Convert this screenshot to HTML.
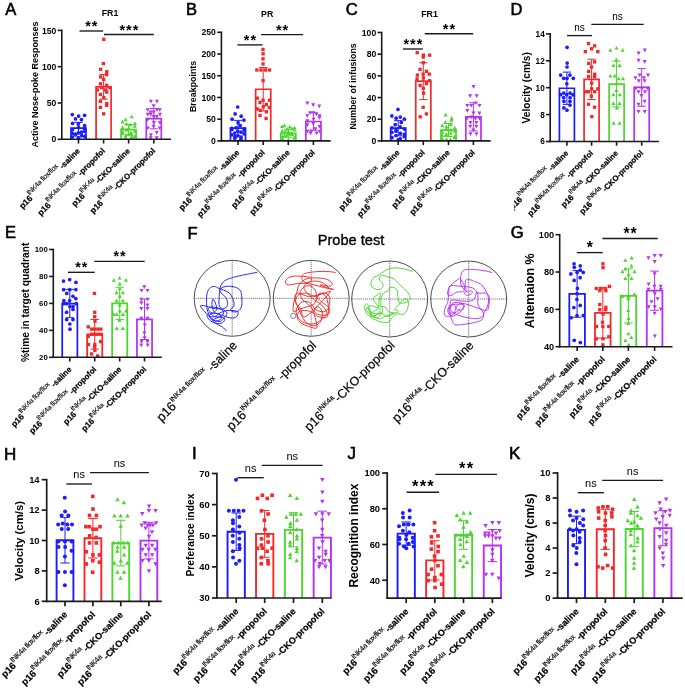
<!DOCTYPE html>
<html><head><meta charset="utf-8"><style>
html,body{margin:0;padding:0;background:#fff;}
svg{display:block;filter:blur(0.3px);}
text{font-family:"Liberation Sans", sans-serif;}
</style></head><body>
<svg width="685" height="689" viewBox="0 0 685 689">
<defs><clipPath id="clipD"><rect x="514.2" y="0" width="172" height="689"/></clipPath></defs>
<rect width="685" height="689" fill="#fff"/>
<rect x="71" y="128.19" width="15" height="11.11" fill="#fff"/>
<rect x="96.1" y="86.81" width="15" height="52.49" fill="#fff"/>
<rect x="121.1" y="129.72" width="15" height="9.58" fill="#fff"/>
<rect x="146.3" y="118.68" width="15" height="20.62" fill="#fff"/>
<path d="M71 139.3V128.19H86V139.3" fill="none" stroke="#1c1cff" stroke-width="1.7" stroke-linejoin="miter"/>
<path d="M96.1 139.3V86.81H111.1V139.3" fill="none" stroke="#f42828" stroke-width="1.7" stroke-linejoin="miter"/>
<path d="M121.1 139.3V129.72H136.1V139.3" fill="none" stroke="#4ad62c" stroke-width="1.7" stroke-linejoin="miter"/>
<path d="M146.3 139.3V118.68H161.3V139.3" fill="none" stroke="#b432f4" stroke-width="1.7" stroke-linejoin="miter"/>
<circle cx="72.31" cy="114.62" r="1.85" fill="#1c1cff"/>
<circle cx="84.58" cy="115.34" r="1.85" fill="#1c1cff"/>
<circle cx="78.64" cy="116.07" r="1.85" fill="#1c1cff"/>
<circle cx="75.47" cy="118.97" r="1.85" fill="#1c1cff"/>
<circle cx="81.49" cy="119.7" r="1.85" fill="#1c1cff"/>
<circle cx="72.56" cy="123.33" r="1.85" fill="#1c1cff"/>
<circle cx="78.33" cy="124.05" r="1.85" fill="#1c1cff"/>
<circle cx="84.63" cy="125.51" r="1.85" fill="#1c1cff"/>
<circle cx="78.55" cy="127.68" r="1.85" fill="#1c1cff"/>
<circle cx="84.42" cy="128.41" r="1.85" fill="#1c1cff"/>
<circle cx="72.46" cy="129.86" r="1.85" fill="#1c1cff"/>
<circle cx="84.73" cy="131.31" r="1.85" fill="#1c1cff"/>
<circle cx="81.54" cy="132.04" r="1.85" fill="#1c1cff"/>
<circle cx="78.35" cy="132.77" r="1.85" fill="#1c1cff"/>
<circle cx="72.42" cy="133.49" r="1.85" fill="#1c1cff"/>
<circle cx="75.53" cy="134.22" r="1.85" fill="#1c1cff"/>
<circle cx="75.39" cy="134.94" r="1.85" fill="#1c1cff"/>
<circle cx="81.7" cy="135.67" r="1.85" fill="#1c1cff"/>
<circle cx="84.81" cy="136.4" r="1.85" fill="#1c1cff"/>
<circle cx="72.26" cy="137.12" r="1.85" fill="#1c1cff"/>
<circle cx="78.58" cy="137.85" r="1.85" fill="#1c1cff"/>
<circle cx="78.4" cy="137.95" r="1.85" fill="#1c1cff"/>
<rect x="102.12" y="37.66" width="3.33" height="3.33" fill="#f42828"/>
<rect x="101.69" y="61.91" width="3.33" height="3.33" fill="#f42828"/>
<rect x="98.98" y="67.65" width="3.33" height="3.33" fill="#f42828"/>
<rect x="105.15" y="69.97" width="3.33" height="3.33" fill="#f42828"/>
<rect x="104.95" y="72.95" width="3.33" height="3.33" fill="#f42828"/>
<rect x="99.04" y="75.27" width="3.33" height="3.33" fill="#f42828"/>
<rect x="102.03" y="77.81" width="3.33" height="3.33" fill="#f42828"/>
<rect x="98.83" y="82.1" width="3.33" height="3.33" fill="#f42828"/>
<rect x="105.01" y="83.62" width="3.33" height="3.33" fill="#f42828"/>
<rect x="99.8" y="85.94" width="3.33" height="3.33" fill="#f42828"/>
<rect x="108.22" y="85.94" width="3.33" height="3.33" fill="#f42828"/>
<rect x="104.05" y="88.27" width="3.33" height="3.33" fill="#f42828"/>
<rect x="95.67" y="88.27" width="3.33" height="3.33" fill="#f42828"/>
<rect x="105.09" y="90.45" width="3.33" height="3.33" fill="#f42828"/>
<rect x="98.75" y="92.77" width="3.33" height="3.33" fill="#f42828"/>
<rect x="102.15" y="95.82" width="3.33" height="3.33" fill="#f42828"/>
<rect x="98.7" y="99.67" width="3.33" height="3.33" fill="#f42828"/>
<rect x="105.1" y="101.92" width="3.33" height="3.33" fill="#f42828"/>
<rect x="104.9" y="103.73" width="3.33" height="3.33" fill="#f42828"/>
<rect x="98.74" y="105.76" width="3.33" height="3.33" fill="#f42828"/>
<rect x="101.99" y="112.15" width="3.33" height="3.33" fill="#f42828"/>
<path d="M131.84 114.65L129.8 118.35L133.87 118.35Z" fill="#4ad62c"/>
<path d="M125.58 117.55L123.55 121.25L127.62 121.25Z" fill="#4ad62c"/>
<path d="M122.54 119.73L120.5 123.43L124.57 123.43Z" fill="#4ad62c"/>
<path d="M134.93 121.18L132.9 124.88L136.97 124.88Z" fill="#4ad62c"/>
<path d="M126.63 121.91L124.6 125.61L128.67 125.61Z" fill="#4ad62c"/>
<path d="M130.65 122.63L128.62 126.33L132.69 126.33Z" fill="#4ad62c"/>
<path d="M134.7 124.09L132.67 127.79L136.74 127.79Z" fill="#4ad62c"/>
<path d="M122.54 125.54L120.5 129.24L124.57 129.24Z" fill="#4ad62c"/>
<path d="M128.55 126.26L126.51 129.96L130.58 129.96Z" fill="#4ad62c"/>
<path d="M126.37 127.72L124.33 131.42L128.4 131.42Z" fill="#4ad62c"/>
<path d="M134.78 129.17L132.74 132.87L136.81 132.87Z" fill="#4ad62c"/>
<path d="M122.51 129.89L120.47 133.59L124.54 133.59Z" fill="#4ad62c"/>
<path d="M130.86 130.62L128.83 134.32L132.9 134.32Z" fill="#4ad62c"/>
<path d="M122.35 131.35L120.32 135.05L124.39 135.05Z" fill="#4ad62c"/>
<path d="M128.66 132.07L126.63 135.77L130.7 135.77Z" fill="#4ad62c"/>
<path d="M131.81 132.8L129.77 136.5L133.84 136.5Z" fill="#4ad62c"/>
<path d="M125.69 133.52L123.66 137.22L127.73 137.22Z" fill="#4ad62c"/>
<path d="M134.82 134.25L132.78 137.95L136.85 137.95Z" fill="#4ad62c"/>
<path d="M131.61 134.98L129.57 138.68L133.64 138.68Z" fill="#4ad62c"/>
<path d="M125.48 135.7L123.45 139.4L127.52 139.4Z" fill="#4ad62c"/>
<path d="M156.95 103.48L154.91 99.78L158.98 99.78Z" fill="#b432f4"/>
<path d="M150.9 103.48L148.86 99.78L152.93 99.78Z" fill="#b432f4"/>
<path d="M153.64 108.05L151.6 104.35L155.67 104.35Z" fill="#b432f4"/>
<path d="M157.06 111.83L155.02 108.13L159.09 108.13Z" fill="#b432f4"/>
<path d="M147.72 111.83L145.69 108.13L149.76 108.13Z" fill="#b432f4"/>
<path d="M159.85 111.83L157.81 108.13L161.88 108.13Z" fill="#b432f4"/>
<path d="M150.51 114.15L148.47 110.45L152.54 110.45Z" fill="#b432f4"/>
<path d="M153.67 114.15L151.63 110.45L155.7 110.45Z" fill="#b432f4"/>
<path d="M150.73 116.4L148.7 112.7L152.77 112.7Z" fill="#b432f4"/>
<path d="M147.74 116.4L145.71 112.7L149.78 112.7Z" fill="#b432f4"/>
<path d="M160.05 116.4L158.01 112.7L162.08 112.7Z" fill="#b432f4"/>
<path d="M153.76 118.65L151.72 114.95L155.79 114.95Z" fill="#b432f4"/>
<path d="M156.83 118.65L154.79 114.95L158.86 114.95Z" fill="#b432f4"/>
<path d="M147.66 121.84L145.62 118.14L149.69 118.14Z" fill="#b432f4"/>
<path d="M153.79 124.75L151.75 121.05L155.82 121.05Z" fill="#b432f4"/>
<path d="M159.92 124.75L157.88 121.05L161.95 121.05Z" fill="#b432f4"/>
<path d="M153.62 128.52L151.58 124.82L155.65 124.82Z" fill="#b432f4"/>
<path d="M159.72 130.12L157.69 126.42L161.76 126.42Z" fill="#b432f4"/>
<path d="M147.84 130.12L145.8 126.42L149.87 126.42Z" fill="#b432f4"/>
<path d="M156.75 134.62L154.72 130.92L158.79 130.92Z" fill="#b432f4"/>
<path d="M150.88 136.94L148.84 133.24L152.91 133.24Z" fill="#b432f4"/>
<path d="M150.68 139.99L148.65 136.29L152.72 136.29Z" fill="#b432f4"/>
<path d="M156.68 139.99L154.65 136.29L158.72 136.29Z" fill="#b432f4"/>
<line x1="78.5" y1="122.38" x2="78.5" y2="134" stroke="#1c1cff" stroke-width="1"/>
<line x1="74.33" y1="122.38" x2="82.67" y2="122.38" stroke="#1c1cff" stroke-width="1"/>
<line x1="74.33" y1="134" x2="82.67" y2="134" stroke="#1c1cff" stroke-width="1"/>
<line x1="103.6" y1="74.47" x2="103.6" y2="99.15" stroke="#f42828" stroke-width="1"/>
<line x1="99.42" y1="74.47" x2="107.77" y2="74.47" stroke="#f42828" stroke-width="1"/>
<line x1="99.42" y1="99.15" x2="107.77" y2="99.15" stroke="#f42828" stroke-width="1"/>
<line x1="128.6" y1="124.63" x2="128.6" y2="134.8" stroke="#4ad62c" stroke-width="1"/>
<line x1="124.42" y1="124.63" x2="132.78" y2="124.63" stroke="#4ad62c" stroke-width="1"/>
<line x1="124.42" y1="134.8" x2="132.78" y2="134.8" stroke="#4ad62c" stroke-width="1"/>
<line x1="153.8" y1="108.52" x2="153.8" y2="128.85" stroke="#b432f4" stroke-width="1"/>
<line x1="149.62" y1="108.52" x2="157.98" y2="108.52" stroke="#b432f4" stroke-width="1"/>
<line x1="149.62" y1="128.85" x2="157.98" y2="128.85" stroke="#b432f4" stroke-width="1"/>
<line x1="61.8" y1="29.6" x2="61.8" y2="140.1" stroke="#1a1a1a" stroke-width="1.6"/>
<line x1="61" y1="139.3" x2="171" y2="139.3" stroke="#1a1a1a" stroke-width="1.6"/>
<line x1="57.6" y1="139.3" x2="61.8" y2="139.3" stroke="#1a1a1a" stroke-width="1.6"/>
<text x="56.3" y="142.4" font-size="8.6" font-weight="bold" text-anchor="end" fill="#000">0</text>
<line x1="57.6" y1="103" x2="61.8" y2="103" stroke="#1a1a1a" stroke-width="1.6"/>
<text x="56.3" y="106.1" font-size="8.6" font-weight="bold" text-anchor="end" fill="#000">50</text>
<line x1="57.6" y1="66.7" x2="61.8" y2="66.7" stroke="#1a1a1a" stroke-width="1.6"/>
<text x="56.3" y="69.8" font-size="8.6" font-weight="bold" text-anchor="end" fill="#000">100</text>
<line x1="57.6" y1="30.4" x2="61.8" y2="30.4" stroke="#1a1a1a" stroke-width="1.6"/>
<text x="56.3" y="33.5" font-size="8.6" font-weight="bold" text-anchor="end" fill="#000">150</text>
<line x1="78.5" y1="139.3" x2="78.5" y2="143.5" stroke="#1a1a1a" stroke-width="1.6"/>
<line x1="103.6" y1="139.3" x2="103.6" y2="143.5" stroke="#1a1a1a" stroke-width="1.6"/>
<line x1="128.6" y1="139.3" x2="128.6" y2="143.5" stroke="#1a1a1a" stroke-width="1.6"/>
<line x1="153.8" y1="139.3" x2="153.8" y2="143.5" stroke="#1a1a1a" stroke-width="1.6"/>
<text transform="translate(37.5 84.6) rotate(-90)" font-size="9" font-weight="bold" text-anchor="middle" fill="#000">Active Nose-poke Responses</text>
<text x="110" y="15.8" font-size="8.8" font-weight="bold" text-anchor="middle" fill="#000">FR1</text>
<line x1="79.5" y1="31" x2="103.2" y2="31" stroke="#1a1a1a" stroke-width="1.35"/>
<text x="91.85" y="31" font-size="14.5" font-weight="bold" text-anchor="middle" letter-spacing="1">**</text>
<line x1="104" y1="34.5" x2="153.9" y2="34.5" stroke="#1a1a1a" stroke-width="1.35"/>
<text x="129.45" y="34.5" font-size="14.5" font-weight="bold" text-anchor="middle" letter-spacing="1">***</text>
<text transform="translate(80.5 151.5) rotate(-45)" text-anchor="end" font-size="7.95"><tspan font-weight="bold" stroke="#000" stroke-width="0.22" font-size="8.5">p16</tspan><tspan font-size="7" letter-spacing="-0.3" stroke="#000" stroke-width="0.12" dy="-5">INK4a flox/flox</tspan><tspan font-weight="bold" stroke="#000" stroke-width="0.22" letter-spacing="0" dy="5" dx="1.4">-saline</tspan></text>
<text transform="translate(105.6 151.5) rotate(-45)" text-anchor="end" font-size="7.95"><tspan font-weight="bold" stroke="#000" stroke-width="0.22" font-size="8.5">p16</tspan><tspan font-size="7" letter-spacing="-0.3" stroke="#000" stroke-width="0.12" dy="-5">INK4a flox/flox</tspan><tspan font-weight="bold" stroke="#000" stroke-width="0.22" letter-spacing="0" dy="5" dx="1.4">-propofol</tspan></text>
<text transform="translate(130.6 151.5) rotate(-45)" text-anchor="end" font-size="7.95"><tspan font-weight="bold" stroke="#000" stroke-width="0.22" font-size="8.5">p16</tspan><tspan font-size="7" letter-spacing="-0.3" stroke="#000" stroke-width="0.12" dy="-5">INK4a</tspan><tspan font-weight="bold" stroke="#000" stroke-width="0.22" letter-spacing="0" dy="5" dx="0.6">-CKO-saline</tspan></text>
<text transform="translate(155.8 151.5) rotate(-45)" text-anchor="end" font-size="7.95"><tspan font-weight="bold" stroke="#000" stroke-width="0.22" font-size="8.5">p16</tspan><tspan font-size="7" letter-spacing="-0.3" stroke="#000" stroke-width="0.12" dy="-5">INK4a</tspan><tspan font-weight="bold" stroke="#000" stroke-width="0.22" letter-spacing="0" dy="5" dx="0.6">-CKO-propofol</tspan></text>
<text x="5.2" y="14.6" font-size="16.5" stroke="#000" stroke-width="0.6">A</text>
<rect x="230.45" y="128.17" width="15.1" height="12.73" fill="#fff"/>
<rect x="255.65" y="89.25" width="15.1" height="51.65" fill="#fff"/>
<rect x="280.75" y="133.3" width="15.1" height="7.6" fill="#fff"/>
<rect x="305.85" y="121.48" width="15.1" height="19.42" fill="#fff"/>
<path d="M230.45 140.9V128.17H245.55V140.9" fill="none" stroke="#1c1cff" stroke-width="1.7" stroke-linejoin="miter"/>
<path d="M255.65 140.9V89.25H270.75V140.9" fill="none" stroke="#f42828" stroke-width="1.7" stroke-linejoin="miter"/>
<path d="M280.75 140.9V133.3H295.85V140.9" fill="none" stroke="#4ad62c" stroke-width="1.7" stroke-linejoin="miter"/>
<path d="M305.85 140.9V121.48H320.95V140.9" fill="none" stroke="#b432f4" stroke-width="1.7" stroke-linejoin="miter"/>
<circle cx="237.74" cy="107.02" r="1.85" fill="#1c1cff"/>
<circle cx="235.12" cy="113.97" r="1.85" fill="#1c1cff"/>
<circle cx="241.17" cy="116.14" r="1.85" fill="#1c1cff"/>
<circle cx="232.09" cy="119.18" r="1.85" fill="#1c1cff"/>
<circle cx="243.94" cy="120.05" r="1.85" fill="#1c1cff"/>
<circle cx="238.11" cy="122.66" r="1.85" fill="#1c1cff"/>
<circle cx="240.17" cy="125.7" r="1.85" fill="#1c1cff"/>
<circle cx="236.08" cy="127.87" r="1.85" fill="#1c1cff"/>
<circle cx="231.76" cy="128.3" r="1.85" fill="#1c1cff"/>
<circle cx="244.34" cy="128.74" r="1.85" fill="#1c1cff"/>
<circle cx="231.81" cy="129.61" r="1.85" fill="#1c1cff"/>
<circle cx="244.1" cy="130.04" r="1.85" fill="#1c1cff"/>
<circle cx="237.84" cy="131.34" r="1.85" fill="#1c1cff"/>
<circle cx="241.08" cy="132.21" r="1.85" fill="#1c1cff"/>
<circle cx="234.69" cy="133.08" r="1.85" fill="#1c1cff"/>
<circle cx="244.24" cy="133.95" r="1.85" fill="#1c1cff"/>
<circle cx="231.83" cy="134.82" r="1.85" fill="#1c1cff"/>
<circle cx="237.88" cy="135.69" r="1.85" fill="#1c1cff"/>
<circle cx="235.07" cy="136.56" r="1.85" fill="#1c1cff"/>
<circle cx="241.05" cy="137.42" r="1.85" fill="#1c1cff"/>
<circle cx="234.83" cy="138.29" r="1.85" fill="#1c1cff"/>
<circle cx="240.88" cy="139.16" r="1.85" fill="#1c1cff"/>
<rect x="261.32" y="47.75" width="3.33" height="3.33" fill="#f42828"/>
<rect x="261.44" y="52.14" width="3.33" height="3.33" fill="#f42828"/>
<rect x="261.33" y="57.22" width="3.33" height="3.33" fill="#f42828"/>
<rect x="261.38" y="62.26" width="3.33" height="3.33" fill="#f42828"/>
<rect x="263.81" y="68.34" width="3.33" height="3.33" fill="#f42828"/>
<rect x="255.23" y="68.34" width="3.33" height="3.33" fill="#f42828"/>
<rect x="259.33" y="68.34" width="3.33" height="3.33" fill="#f42828"/>
<rect x="267.78" y="68.34" width="3.33" height="3.33" fill="#f42828"/>
<rect x="261.42" y="78.94" width="3.33" height="3.33" fill="#f42828"/>
<rect x="255.56" y="96.45" width="3.33" height="3.33" fill="#f42828"/>
<rect x="267.77" y="98.53" width="3.33" height="3.33" fill="#f42828"/>
<rect x="261.48" y="98.53" width="3.33" height="3.33" fill="#f42828"/>
<rect x="258.33" y="100.75" width="3.33" height="3.33" fill="#f42828"/>
<rect x="264.7" y="102.92" width="3.33" height="3.33" fill="#f42828"/>
<rect x="261.61" y="105.13" width="3.33" height="3.33" fill="#f42828"/>
<rect x="267.73" y="105.83" width="3.33" height="3.33" fill="#f42828"/>
<rect x="255.51" y="107.22" width="3.33" height="3.33" fill="#f42828"/>
<rect x="258.58" y="108.74" width="3.33" height="3.33" fill="#f42828"/>
<rect x="264.75" y="110.13" width="3.33" height="3.33" fill="#f42828"/>
<rect x="258.32" y="113.82" width="3.33" height="3.33" fill="#f42828"/>
<rect x="264.43" y="116.73" width="3.33" height="3.33" fill="#f42828"/>
<path d="M284.54 123.55L282.5 127.25L286.57 127.25Z" fill="#4ad62c"/>
<path d="M282.08 124.42L280.04 128.12L284.11 128.12Z" fill="#4ad62c"/>
<path d="M289.75 124.85L287.71 128.55L291.78 128.55Z" fill="#4ad62c"/>
<path d="M294.6 125.72L292.57 129.42L296.64 129.42Z" fill="#4ad62c"/>
<path d="M292.08 126.59L290.04 130.29L294.11 130.29Z" fill="#4ad62c"/>
<path d="M287.19 127.03L285.15 130.73L289.22 130.73Z" fill="#4ad62c"/>
<path d="M294.54 127.89L292.51 131.59L296.58 131.59Z" fill="#4ad62c"/>
<path d="M282.2 128.76L280.16 132.46L284.23 132.46Z" fill="#4ad62c"/>
<path d="M285.04 129.63L283 133.33L287.07 133.33Z" fill="#4ad62c"/>
<path d="M288.35 130.07L286.31 133.77L290.38 133.77Z" fill="#4ad62c"/>
<path d="M291.52 130.93L289.48 134.63L293.55 134.63Z" fill="#4ad62c"/>
<path d="M289.36 131.8L287.33 135.5L291.4 135.5Z" fill="#4ad62c"/>
<path d="M292.21 132.24L290.18 135.94L294.25 135.94Z" fill="#4ad62c"/>
<path d="M286.99 133.11L284.96 136.81L289.03 136.81Z" fill="#4ad62c"/>
<path d="M284.38 133.54L282.34 137.24L286.41 137.24Z" fill="#4ad62c"/>
<path d="M282.17 134.41L280.13 138.11L284.2 138.11Z" fill="#4ad62c"/>
<path d="M294.63 135.28L292.59 138.98L296.66 138.98Z" fill="#4ad62c"/>
<path d="M294.26 135.71L292.23 139.41L296.3 139.41Z" fill="#4ad62c"/>
<path d="M282.38 136.58L280.35 140.28L284.42 140.28Z" fill="#4ad62c"/>
<path d="M288.45 137.4L286.41 141.1L290.48 141.1Z" fill="#4ad62c"/>
<path d="M307.33 105.25L305.29 101.55L309.36 101.55Z" fill="#b432f4"/>
<path d="M313.24 106.95L311.21 103.25L315.28 103.25Z" fill="#b432f4"/>
<path d="M319.31 108.25L317.27 104.55L321.34 104.55Z" fill="#b432f4"/>
<path d="M310.14 114.85L308.11 111.15L312.18 111.15Z" fill="#b432f4"/>
<path d="M313.56 114.85L311.52 111.15L315.59 111.15Z" fill="#b432f4"/>
<path d="M316.36 116.16L314.33 112.46L318.4 112.46Z" fill="#b432f4"/>
<path d="M307.29 117.85L305.25 114.15L309.32 114.15Z" fill="#b432f4"/>
<path d="M319.61 117.85L317.57 114.15L321.64 114.15Z" fill="#b432f4"/>
<path d="M319.5 119.63L317.47 115.93L321.54 115.93Z" fill="#b432f4"/>
<path d="M313.53 121.33L311.5 117.63L315.57 117.63Z" fill="#b432f4"/>
<path d="M307.34 123.06L305.31 119.36L309.38 119.36Z" fill="#b432f4"/>
<path d="M313.27 125.67L311.24 121.97L315.31 121.97Z" fill="#b432f4"/>
<path d="M307.38 127.06L305.34 123.36L309.41 123.36Z" fill="#b432f4"/>
<path d="M319.43 128.75L317.39 125.05L321.46 125.05Z" fill="#b432f4"/>
<path d="M315.33 130.88L313.29 127.18L317.36 127.18Z" fill="#b432f4"/>
<path d="M311.37 133.53L309.33 129.83L313.4 129.83Z" fill="#b432f4"/>
<path d="M319.78 133.53L317.74 129.83L321.81 129.83Z" fill="#b432f4"/>
<path d="M307.35 133.53L305.31 129.83L309.38 129.83Z" fill="#b432f4"/>
<path d="M316.64 135.23L314.61 131.53L318.68 131.53Z" fill="#b432f4"/>
<path d="M310.54 135.23L308.5 131.53L312.57 131.53Z" fill="#b432f4"/>
<line x1="238" y1="120.35" x2="238" y2="135.99" stroke="#1c1cff" stroke-width="1"/>
<line x1="233.8" y1="120.35" x2="242.2" y2="120.35" stroke="#1c1cff" stroke-width="1"/>
<line x1="233.8" y1="135.99" x2="242.2" y2="135.99" stroke="#1c1cff" stroke-width="1"/>
<line x1="263.2" y1="67.53" x2="263.2" y2="110.97" stroke="#f42828" stroke-width="1"/>
<line x1="259" y1="67.53" x2="267.4" y2="67.53" stroke="#f42828" stroke-width="1"/>
<line x1="259" y1="110.97" x2="267.4" y2="110.97" stroke="#f42828" stroke-width="1"/>
<line x1="288.3" y1="129.39" x2="288.3" y2="137.21" stroke="#4ad62c" stroke-width="1"/>
<line x1="284.1" y1="129.39" x2="292.5" y2="129.39" stroke="#4ad62c" stroke-width="1"/>
<line x1="284.1" y1="137.21" x2="292.5" y2="137.21" stroke="#4ad62c" stroke-width="1"/>
<line x1="313.4" y1="112.79" x2="313.4" y2="130.17" stroke="#b432f4" stroke-width="1"/>
<line x1="309.2" y1="112.79" x2="317.6" y2="112.79" stroke="#b432f4" stroke-width="1"/>
<line x1="309.2" y1="130.17" x2="317.6" y2="130.17" stroke="#b432f4" stroke-width="1"/>
<line x1="221.4" y1="31.5" x2="221.4" y2="141.7" stroke="#1a1a1a" stroke-width="1.6"/>
<line x1="220.6" y1="140.9" x2="330.7" y2="140.9" stroke="#1a1a1a" stroke-width="1.6"/>
<line x1="217.2" y1="140.9" x2="221.4" y2="140.9" stroke="#1a1a1a" stroke-width="1.6"/>
<text x="215.9" y="144" font-size="8.6" font-weight="bold" text-anchor="end" fill="#000">0</text>
<line x1="217.2" y1="119.18" x2="221.4" y2="119.18" stroke="#1a1a1a" stroke-width="1.6"/>
<text x="215.9" y="122.28" font-size="8.6" font-weight="bold" text-anchor="end" fill="#000">50</text>
<line x1="217.2" y1="97.46" x2="221.4" y2="97.46" stroke="#1a1a1a" stroke-width="1.6"/>
<text x="215.9" y="100.56" font-size="8.6" font-weight="bold" text-anchor="end" fill="#000">100</text>
<line x1="217.2" y1="75.74" x2="221.4" y2="75.74" stroke="#1a1a1a" stroke-width="1.6"/>
<text x="215.9" y="78.84" font-size="8.6" font-weight="bold" text-anchor="end" fill="#000">150</text>
<line x1="217.2" y1="54.02" x2="221.4" y2="54.02" stroke="#1a1a1a" stroke-width="1.6"/>
<text x="215.9" y="57.12" font-size="8.6" font-weight="bold" text-anchor="end" fill="#000">200</text>
<line x1="217.2" y1="32.3" x2="221.4" y2="32.3" stroke="#1a1a1a" stroke-width="1.6"/>
<text x="215.9" y="35.4" font-size="8.6" font-weight="bold" text-anchor="end" fill="#000">250</text>
<line x1="238" y1="140.9" x2="238" y2="145.1" stroke="#1a1a1a" stroke-width="1.6"/>
<line x1="263.2" y1="140.9" x2="263.2" y2="145.1" stroke="#1a1a1a" stroke-width="1.6"/>
<line x1="288.3" y1="140.9" x2="288.3" y2="145.1" stroke="#1a1a1a" stroke-width="1.6"/>
<line x1="313.4" y1="140.9" x2="313.4" y2="145.1" stroke="#1a1a1a" stroke-width="1.6"/>
<text transform="translate(196.2 86.4) rotate(-90)" font-size="8.9" font-weight="bold" text-anchor="middle" fill="#000">Breakpoints</text>
<text x="267.2" y="16.8" font-size="8.8" font-weight="bold" text-anchor="middle" fill="#000">PR</text>
<line x1="237.4" y1="44.9" x2="262.6" y2="44.9" stroke="#1a1a1a" stroke-width="1.35"/>
<text x="250.5" y="44.9" font-size="14.5" font-weight="bold" text-anchor="middle" letter-spacing="1">**</text>
<line x1="261.1" y1="34.6" x2="303.1" y2="34.6" stroke="#1a1a1a" stroke-width="1.35"/>
<text x="282.6" y="34.6" font-size="14.5" font-weight="bold" text-anchor="middle" letter-spacing="1">**</text>
<text transform="translate(240 153.1) rotate(-45)" text-anchor="end" font-size="7.95"><tspan font-weight="bold" stroke="#000" stroke-width="0.22" font-size="8.5">p16</tspan><tspan font-size="7" letter-spacing="-0.3" stroke="#000" stroke-width="0.12" dy="-5">INK4a flox/flox</tspan><tspan font-weight="bold" stroke="#000" stroke-width="0.22" letter-spacing="0" dy="5" dx="1.4">-saline</tspan></text>
<text transform="translate(265.2 153.1) rotate(-45)" text-anchor="end" font-size="7.95"><tspan font-weight="bold" stroke="#000" stroke-width="0.22" font-size="8.5">p16</tspan><tspan font-size="7" letter-spacing="-0.3" stroke="#000" stroke-width="0.12" dy="-5">INK4a flox/flox</tspan><tspan font-weight="bold" stroke="#000" stroke-width="0.22" letter-spacing="0" dy="5" dx="1.4">-propofol</tspan></text>
<text transform="translate(290.3 153.1) rotate(-45)" text-anchor="end" font-size="7.95"><tspan font-weight="bold" stroke="#000" stroke-width="0.22" font-size="8.5">p16</tspan><tspan font-size="7" letter-spacing="-0.3" stroke="#000" stroke-width="0.12" dy="-5">INK4a</tspan><tspan font-weight="bold" stroke="#000" stroke-width="0.22" letter-spacing="0" dy="5" dx="0.6">-CKO-saline</tspan></text>
<text transform="translate(315.4 153.1) rotate(-45)" text-anchor="end" font-size="7.95"><tspan font-weight="bold" stroke="#000" stroke-width="0.22" font-size="8.5">p16</tspan><tspan font-size="7" letter-spacing="-0.3" stroke="#000" stroke-width="0.12" dy="-5">INK4a</tspan><tspan font-weight="bold" stroke="#000" stroke-width="0.22" letter-spacing="0" dy="5" dx="0.6">-CKO-propofol</tspan></text>
<text x="186" y="14.5" font-size="16.5" stroke="#000" stroke-width="0.6">B</text>
<rect x="390.65" y="128.22" width="15.1" height="12.68" fill="#fff"/>
<rect x="415.75" y="81.17" width="15.1" height="59.73" fill="#fff"/>
<rect x="440.95" y="130.06" width="15.1" height="10.84" fill="#fff"/>
<rect x="465.85" y="116.84" width="15.1" height="24.06" fill="#fff"/>
<path d="M390.65 140.9V128.22H405.75V140.9" fill="none" stroke="#1c1cff" stroke-width="1.7" stroke-linejoin="miter"/>
<path d="M415.75 140.9V81.17H430.85V140.9" fill="none" stroke="#f42828" stroke-width="1.7" stroke-linejoin="miter"/>
<path d="M440.95 140.9V130.06H456.05V140.9" fill="none" stroke="#4ad62c" stroke-width="1.7" stroke-linejoin="miter"/>
<path d="M465.85 140.9V116.84H480.95V140.9" fill="none" stroke="#b432f4" stroke-width="1.7" stroke-linejoin="miter"/>
<circle cx="397.94" cy="109.46" r="1.85" fill="#1c1cff"/>
<circle cx="391.86" cy="115.97" r="1.85" fill="#1c1cff"/>
<circle cx="400.28" cy="117.05" r="1.85" fill="#1c1cff"/>
<circle cx="396.16" cy="118.14" r="1.85" fill="#1c1cff"/>
<circle cx="404.36" cy="119.22" r="1.85" fill="#1c1cff"/>
<circle cx="401.32" cy="122.47" r="1.85" fill="#1c1cff"/>
<circle cx="395.21" cy="124.64" r="1.85" fill="#1c1cff"/>
<circle cx="400.12" cy="126.81" r="1.85" fill="#1c1cff"/>
<circle cx="391.93" cy="127.89" r="1.85" fill="#1c1cff"/>
<circle cx="404.37" cy="128.98" r="1.85" fill="#1c1cff"/>
<circle cx="395.97" cy="130.06" r="1.85" fill="#1c1cff"/>
<circle cx="396.13" cy="131.14" r="1.85" fill="#1c1cff"/>
<circle cx="391.91" cy="132.23" r="1.85" fill="#1c1cff"/>
<circle cx="400.44" cy="133.31" r="1.85" fill="#1c1cff"/>
<circle cx="404.53" cy="134.4" r="1.85" fill="#1c1cff"/>
<circle cx="396.09" cy="135.48" r="1.85" fill="#1c1cff"/>
<circle cx="404.34" cy="136.56" r="1.85" fill="#1c1cff"/>
<circle cx="392.03" cy="137.65" r="1.85" fill="#1c1cff"/>
<circle cx="400.38" cy="138.73" r="1.85" fill="#1c1cff"/>
<circle cx="398.3" cy="139.55" r="1.85" fill="#1c1cff"/>
<rect x="415.55" y="51" width="3.33" height="3.33" fill="#f42828"/>
<rect x="427.92" y="53.49" width="3.33" height="3.33" fill="#f42828"/>
<rect x="421.72" y="53.49" width="3.33" height="3.33" fill="#f42828"/>
<rect x="421.56" y="55.44" width="3.33" height="3.33" fill="#f42828"/>
<rect x="421.65" y="61.08" width="3.33" height="3.33" fill="#f42828"/>
<rect x="418.39" y="67.69" width="3.33" height="3.33" fill="#f42828"/>
<rect x="424.79" y="69.64" width="3.33" height="3.33" fill="#f42828"/>
<rect x="421.46" y="72.46" width="3.33" height="3.33" fill="#f42828"/>
<rect x="427.64" y="72.46" width="3.33" height="3.33" fill="#f42828"/>
<rect x="415.71" y="73.44" width="3.33" height="3.33" fill="#f42828"/>
<rect x="421.68" y="76.25" width="3.33" height="3.33" fill="#f42828"/>
<rect x="415.39" y="77.23" width="3.33" height="3.33" fill="#f42828"/>
<rect x="427.91" y="79.07" width="3.33" height="3.33" fill="#f42828"/>
<rect x="424.72" y="82" width="3.33" height="3.33" fill="#f42828"/>
<rect x="418.53" y="83.84" width="3.33" height="3.33" fill="#f42828"/>
<rect x="421.71" y="86.66" width="3.33" height="3.33" fill="#f42828"/>
<rect x="421.92" y="91.43" width="3.33" height="3.33" fill="#f42828"/>
<rect x="421.5" y="105.63" width="3.33" height="3.33" fill="#f42828"/>
<rect x="424.75" y="112.24" width="3.33" height="3.33" fill="#f42828"/>
<rect x="418.51" y="115.17" width="3.33" height="3.33" fill="#f42828"/>
<path d="M445.62 112.74L443.58 116.44L447.65 116.44Z" fill="#4ad62c"/>
<path d="M451.64 115.99L449.61 119.69L453.68 119.69Z" fill="#4ad62c"/>
<path d="M451.41 118.16L449.38 121.86L453.45 121.86Z" fill="#4ad62c"/>
<path d="M445.28 120.33L443.25 124.03L447.32 124.03Z" fill="#4ad62c"/>
<path d="M450.74 122.49L448.71 126.19L452.78 126.19Z" fill="#4ad62c"/>
<path d="M442.28 123.58L440.25 127.28L444.32 127.28Z" fill="#4ad62c"/>
<path d="M446.46 124.66L444.43 128.36L448.5 128.36Z" fill="#4ad62c"/>
<path d="M454.82 125.75L452.79 129.45L456.86 129.45Z" fill="#4ad62c"/>
<path d="M446.52 126.83L444.49 130.53L448.56 130.53Z" fill="#4ad62c"/>
<path d="M450.64 127.91L448.61 131.61L452.68 131.61Z" fill="#4ad62c"/>
<path d="M454.85 129L452.82 132.7L456.89 132.7Z" fill="#4ad62c"/>
<path d="M442.31 130.08L440.28 133.78L444.35 133.78Z" fill="#4ad62c"/>
<path d="M450.74 131.17L448.71 134.87L452.78 134.87Z" fill="#4ad62c"/>
<path d="M446.35 132.25L444.32 135.95L448.39 135.95Z" fill="#4ad62c"/>
<path d="M442.29 133.33L440.25 137.03L444.32 137.03Z" fill="#4ad62c"/>
<path d="M454.74 134.42L452.7 138.12L456.77 138.12Z" fill="#4ad62c"/>
<path d="M454.58 135.5L452.55 139.2L456.62 139.2Z" fill="#4ad62c"/>
<path d="M442.12 136.59L440.08 140.29L444.15 140.29Z" fill="#4ad62c"/>
<path d="M446.58 137.13L444.55 140.83L448.62 140.83Z" fill="#4ad62c"/>
<path d="M450.43 137.4L448.39 141.1L452.46 141.1Z" fill="#4ad62c"/>
<path d="M473.53 88.63L471.49 84.93L475.56 84.93Z" fill="#b432f4"/>
<path d="M470.15 98.06L468.12 94.36L472.19 94.36Z" fill="#b432f4"/>
<path d="M476.63 98.06L474.59 94.36L478.66 94.36Z" fill="#b432f4"/>
<path d="M475.67 105.11L473.64 101.41L477.71 101.41Z" fill="#b432f4"/>
<path d="M471.19 107.6L469.16 103.9L473.23 103.9Z" fill="#b432f4"/>
<path d="M467.27 107.6L465.24 103.9L469.31 103.9Z" fill="#b432f4"/>
<path d="M479.6 107.6L477.56 103.9L481.63 103.9Z" fill="#b432f4"/>
<path d="M467.37 112.69L465.34 108.99L469.41 108.99Z" fill="#b432f4"/>
<path d="M479.42 115.19L477.38 111.49L481.45 111.49Z" fill="#b432f4"/>
<path d="M473.5 115.19L471.46 111.49L475.53 111.49Z" fill="#b432f4"/>
<path d="M471.26 119.2L469.23 115.5L473.3 115.5Z" fill="#b432f4"/>
<path d="M467.02 120.82L464.99 117.12L469.06 117.12Z" fill="#b432f4"/>
<path d="M475.42 120.82L473.39 117.12L477.46 117.12Z" fill="#b432f4"/>
<path d="M479.57 120.82L477.53 117.12L481.6 117.12Z" fill="#b432f4"/>
<path d="M470.47 124.62L468.44 120.92L472.51 120.92Z" fill="#b432f4"/>
<path d="M476.32 124.62L474.29 120.92L478.36 120.92Z" fill="#b432f4"/>
<path d="M470.18 128.41L468.15 124.71L472.22 124.71Z" fill="#b432f4"/>
<path d="M476.29 128.41L474.25 124.71L478.32 124.71Z" fill="#b432f4"/>
<path d="M473.29 132.21L471.26 128.51L475.33 128.51Z" fill="#b432f4"/>
<path d="M476.4 136L474.37 132.3L478.44 132.3Z" fill="#b432f4"/>
<path d="M470.46 136L468.43 132.3L472.5 132.3Z" fill="#b432f4"/>
<line x1="398.2" y1="120.63" x2="398.2" y2="135.81" stroke="#1c1cff" stroke-width="1"/>
<line x1="394" y1="120.63" x2="402.4" y2="120.63" stroke="#1c1cff" stroke-width="1"/>
<line x1="394" y1="135.81" x2="402.4" y2="135.81" stroke="#1c1cff" stroke-width="1"/>
<line x1="423.3" y1="62.74" x2="423.3" y2="99.6" stroke="#f42828" stroke-width="1"/>
<line x1="419.1" y1="62.74" x2="427.5" y2="62.74" stroke="#f42828" stroke-width="1"/>
<line x1="419.1" y1="99.6" x2="427.5" y2="99.6" stroke="#f42828" stroke-width="1"/>
<line x1="448.5" y1="123.56" x2="448.5" y2="136.56" stroke="#4ad62c" stroke-width="1"/>
<line x1="444.3" y1="123.56" x2="452.7" y2="123.56" stroke="#4ad62c" stroke-width="1"/>
<line x1="444.3" y1="136.56" x2="452.7" y2="136.56" stroke="#4ad62c" stroke-width="1"/>
<line x1="473.4" y1="102.74" x2="473.4" y2="130.93" stroke="#b432f4" stroke-width="1"/>
<line x1="469.2" y1="102.74" x2="477.6" y2="102.74" stroke="#b432f4" stroke-width="1"/>
<line x1="469.2" y1="130.93" x2="477.6" y2="130.93" stroke="#b432f4" stroke-width="1"/>
<line x1="381.7" y1="31.7" x2="381.7" y2="141.7" stroke="#1a1a1a" stroke-width="1.6"/>
<line x1="380.9" y1="140.9" x2="490.7" y2="140.9" stroke="#1a1a1a" stroke-width="1.6"/>
<line x1="377.5" y1="140.9" x2="381.7" y2="140.9" stroke="#1a1a1a" stroke-width="1.6"/>
<text x="376.2" y="144" font-size="8.6" font-weight="bold" text-anchor="end" fill="#000">0</text>
<line x1="377.5" y1="119.22" x2="381.7" y2="119.22" stroke="#1a1a1a" stroke-width="1.6"/>
<text x="376.2" y="122.32" font-size="8.6" font-weight="bold" text-anchor="end" fill="#000">20</text>
<line x1="377.5" y1="97.54" x2="381.7" y2="97.54" stroke="#1a1a1a" stroke-width="1.6"/>
<text x="376.2" y="100.64" font-size="8.6" font-weight="bold" text-anchor="end" fill="#000">40</text>
<line x1="377.5" y1="75.86" x2="381.7" y2="75.86" stroke="#1a1a1a" stroke-width="1.6"/>
<text x="376.2" y="78.96" font-size="8.6" font-weight="bold" text-anchor="end" fill="#000">60</text>
<line x1="377.5" y1="54.18" x2="381.7" y2="54.18" stroke="#1a1a1a" stroke-width="1.6"/>
<text x="376.2" y="57.28" font-size="8.6" font-weight="bold" text-anchor="end" fill="#000">80</text>
<line x1="377.5" y1="32.5" x2="381.7" y2="32.5" stroke="#1a1a1a" stroke-width="1.6"/>
<text x="376.2" y="35.6" font-size="8.6" font-weight="bold" text-anchor="end" fill="#000">100</text>
<line x1="398.2" y1="140.9" x2="398.2" y2="145.1" stroke="#1a1a1a" stroke-width="1.6"/>
<line x1="423.3" y1="140.9" x2="423.3" y2="145.1" stroke="#1a1a1a" stroke-width="1.6"/>
<line x1="448.5" y1="140.9" x2="448.5" y2="145.1" stroke="#1a1a1a" stroke-width="1.6"/>
<line x1="473.4" y1="140.9" x2="473.4" y2="145.1" stroke="#1a1a1a" stroke-width="1.6"/>
<text transform="translate(356.2 86.4) rotate(-90)" font-size="8.9" font-weight="bold" text-anchor="middle" fill="#000">Number of infusions</text>
<text x="429.5" y="17.4" font-size="8.8" font-weight="bold" text-anchor="middle" fill="#000">FR1</text>
<line x1="403" y1="49" x2="422.9" y2="49" stroke="#1a1a1a" stroke-width="1.35"/>
<text x="413.45" y="49" font-size="14.5" font-weight="bold" text-anchor="middle" letter-spacing="1">***</text>
<line x1="424.8" y1="33.7" x2="473.2" y2="33.7" stroke="#1a1a1a" stroke-width="1.35"/>
<text x="449.5" y="33.7" font-size="14.5" font-weight="bold" text-anchor="middle" letter-spacing="1">**</text>
<text transform="translate(400.2 153.1) rotate(-45)" text-anchor="end" font-size="7.95"><tspan font-weight="bold" stroke="#000" stroke-width="0.22" font-size="8.5">p16</tspan><tspan font-size="7" letter-spacing="-0.3" stroke="#000" stroke-width="0.12" dy="-5">INK4a flox/flox</tspan><tspan font-weight="bold" stroke="#000" stroke-width="0.22" letter-spacing="0" dy="5" dx="1.4">-saline</tspan></text>
<text transform="translate(425.3 153.1) rotate(-45)" text-anchor="end" font-size="7.95"><tspan font-weight="bold" stroke="#000" stroke-width="0.22" font-size="8.5">p16</tspan><tspan font-size="7" letter-spacing="-0.3" stroke="#000" stroke-width="0.12" dy="-5">INK4a flox/flox</tspan><tspan font-weight="bold" stroke="#000" stroke-width="0.22" letter-spacing="0" dy="5" dx="1.4">-propofol</tspan></text>
<text transform="translate(450.5 153.1) rotate(-45)" text-anchor="end" font-size="7.95"><tspan font-weight="bold" stroke="#000" stroke-width="0.22" font-size="8.5">p16</tspan><tspan font-size="7" letter-spacing="-0.3" stroke="#000" stroke-width="0.12" dy="-5">INK4a</tspan><tspan font-weight="bold" stroke="#000" stroke-width="0.22" letter-spacing="0" dy="5" dx="0.6">-CKO-saline</tspan></text>
<text transform="translate(475.4 153.1) rotate(-45)" text-anchor="end" font-size="7.95"><tspan font-weight="bold" stroke="#000" stroke-width="0.22" font-size="8.5">p16</tspan><tspan font-size="7" letter-spacing="-0.3" stroke="#000" stroke-width="0.12" dy="-5">INK4a</tspan><tspan font-weight="bold" stroke="#000" stroke-width="0.22" letter-spacing="0" dy="5" dx="0.6">-CKO-propofol</tspan></text>
<text x="345.8" y="14.6" font-size="16.5" stroke="#000" stroke-width="0.6">C</text>
<rect x="559.4" y="88.24" width="15" height="53.26" fill="#fff"/>
<rect x="584.1" y="79.36" width="15" height="62.14" fill="#fff"/>
<rect x="609.1" y="84.07" width="15" height="57.43" fill="#fff"/>
<rect x="634.2" y="87.43" width="15" height="54.07" fill="#fff"/>
<path d="M559.4 141.5V88.24H574.4V141.5" fill="none" stroke="#1c1cff" stroke-width="1.7" stroke-linejoin="miter"/>
<path d="M584.1 141.5V79.36H599.1V141.5" fill="none" stroke="#f42828" stroke-width="1.7" stroke-linejoin="miter"/>
<path d="M609.1 141.5V84.07H624.1V141.5" fill="none" stroke="#4ad62c" stroke-width="1.7" stroke-linejoin="miter"/>
<path d="M634.2 141.5V87.43H649.2V141.5" fill="none" stroke="#b432f4" stroke-width="1.7" stroke-linejoin="miter"/>
<circle cx="567.05" cy="47.35" r="1.85" fill="#1c1cff"/>
<circle cx="567.16" cy="63.09" r="1.85" fill="#1c1cff"/>
<circle cx="567.05" cy="66.99" r="1.85" fill="#1c1cff"/>
<circle cx="569.93" cy="75.06" r="1.85" fill="#1c1cff"/>
<circle cx="560.67" cy="75.06" r="1.85" fill="#1c1cff"/>
<circle cx="567.04" cy="78.29" r="1.85" fill="#1c1cff"/>
<circle cx="563.71" cy="78.29" r="1.85" fill="#1c1cff"/>
<circle cx="573.29" cy="78.29" r="1.85" fill="#1c1cff"/>
<circle cx="566.82" cy="83.8" r="1.85" fill="#1c1cff"/>
<circle cx="570.04" cy="93.08" r="1.85" fill="#1c1cff"/>
<circle cx="563.74" cy="93.08" r="1.85" fill="#1c1cff"/>
<circle cx="560.54" cy="94.69" r="1.85" fill="#1c1cff"/>
<circle cx="566.74" cy="94.69" r="1.85" fill="#1c1cff"/>
<circle cx="572.98" cy="94.69" r="1.85" fill="#1c1cff"/>
<circle cx="570.08" cy="97.65" r="1.85" fill="#1c1cff"/>
<circle cx="563.65" cy="97.65" r="1.85" fill="#1c1cff"/>
<circle cx="563.86" cy="101.28" r="1.85" fill="#1c1cff"/>
<circle cx="569.96" cy="101.28" r="1.85" fill="#1c1cff"/>
<circle cx="570" cy="105.05" r="1.85" fill="#1c1cff"/>
<circle cx="563.88" cy="107.88" r="1.85" fill="#1c1cff"/>
<circle cx="566.96" cy="110.16" r="1.85" fill="#1c1cff"/>
<rect x="586.82" y="41.92" width="3.33" height="3.33" fill="#f42828"/>
<rect x="593" y="44.21" width="3.33" height="3.33" fill="#f42828"/>
<rect x="589.92" y="47.16" width="3.33" height="3.33" fill="#f42828"/>
<rect x="596.15" y="49.99" width="3.33" height="3.33" fill="#f42828"/>
<rect x="583.69" y="49.99" width="3.33" height="3.33" fill="#f42828"/>
<rect x="592.9" y="60.21" width="3.33" height="3.33" fill="#f42828"/>
<rect x="587.04" y="61.69" width="3.33" height="3.33" fill="#f42828"/>
<rect x="589.85" y="65.32" width="3.33" height="3.33" fill="#f42828"/>
<rect x="586.96" y="69.76" width="3.33" height="3.33" fill="#f42828"/>
<rect x="593.03" y="72.58" width="3.33" height="3.33" fill="#f42828"/>
<rect x="592.91" y="74.87" width="3.33" height="3.33" fill="#f42828"/>
<rect x="586.89" y="74.87" width="3.33" height="3.33" fill="#f42828"/>
<rect x="589.98" y="81.46" width="3.33" height="3.33" fill="#f42828"/>
<rect x="590" y="87.25" width="3.33" height="3.33" fill="#f42828"/>
<rect x="596.21" y="87.25" width="3.33" height="3.33" fill="#f42828"/>
<rect x="593.01" y="90.07" width="3.33" height="3.33" fill="#f42828"/>
<rect x="583.89" y="90.07" width="3.33" height="3.33" fill="#f42828"/>
<rect x="586.94" y="90.07" width="3.33" height="3.33" fill="#f42828"/>
<rect x="589.65" y="94.51" width="3.33" height="3.33" fill="#f42828"/>
<rect x="586.82" y="102.58" width="3.33" height="3.33" fill="#f42828"/>
<rect x="592.93" y="105.54" width="3.33" height="3.33" fill="#f42828"/>
<rect x="590.16" y="114.95" width="3.33" height="3.33" fill="#f42828"/>
<path d="M616.51 45.88L614.48 49.58L618.55 49.58Z" fill="#4ad62c"/>
<path d="M610.34 48.03L608.31 51.73L612.38 51.73Z" fill="#4ad62c"/>
<path d="M622.68 48.03L620.64 51.73L624.71 51.73Z" fill="#4ad62c"/>
<path d="M616.31 57.58L614.28 61.28L618.35 61.28Z" fill="#4ad62c"/>
<path d="M613.5 63.36L611.46 67.06L615.53 67.06Z" fill="#4ad62c"/>
<path d="M619.57 63.36L617.54 67.06L621.61 67.06Z" fill="#4ad62c"/>
<path d="M614.63 73.72L612.6 77.42L616.67 77.42Z" fill="#4ad62c"/>
<path d="M610.37 73.72L608.34 77.42L612.41 77.42Z" fill="#4ad62c"/>
<path d="M622.97 76.54L620.93 80.24L625 80.24Z" fill="#4ad62c"/>
<path d="M618.61 76.54L616.57 80.24L620.64 80.24Z" fill="#4ad62c"/>
<path d="M616.51 81.52L614.48 85.22L618.55 85.22Z" fill="#4ad62c"/>
<path d="M616.43 88.24L614.39 91.94L618.46 91.94Z" fill="#4ad62c"/>
<path d="M619.79 92.55L617.75 96.25L621.82 96.25Z" fill="#4ad62c"/>
<path d="M613.51 92.55L611.48 96.25L615.55 96.25Z" fill="#4ad62c"/>
<path d="M619.49 101.29L617.45 104.99L621.52 104.99Z" fill="#4ad62c"/>
<path d="M613.45 101.29L611.42 104.99L615.49 104.99Z" fill="#4ad62c"/>
<path d="M616.88 105.73L614.84 109.43L618.91 109.43Z" fill="#4ad62c"/>
<path d="M613.62 121.06L611.59 124.76L615.66 124.76Z" fill="#4ad62c"/>
<path d="M619.56 121.06L617.53 124.76L621.6 124.76Z" fill="#4ad62c"/>
<path d="M644.86 52.32L642.82 48.62L646.89 48.62Z" fill="#b432f4"/>
<path d="M638.7 55.28L636.66 51.58L640.73 51.58Z" fill="#b432f4"/>
<path d="M638.64 62.54L636.61 58.84L640.68 58.84Z" fill="#b432f4"/>
<path d="M644.68 63.75L642.64 60.05L646.71 60.05Z" fill="#b432f4"/>
<path d="M639.67 77.2L637.64 73.5L641.71 73.5Z" fill="#b432f4"/>
<path d="M648.06 77.2L646.03 73.5L650.1 73.5Z" fill="#b432f4"/>
<path d="M635.4 79.89L633.37 76.19L637.44 76.19Z" fill="#b432f4"/>
<path d="M643.85 79.89L641.82 76.19L645.89 76.19Z" fill="#b432f4"/>
<path d="M638.79 82.99L636.75 79.29L640.82 79.29Z" fill="#b432f4"/>
<path d="M644.63 82.99L642.59 79.29L646.66 79.29Z" fill="#b432f4"/>
<path d="M641.79 90.38L639.76 86.68L643.83 86.68Z" fill="#b432f4"/>
<path d="M635.76 90.38L633.73 86.68L637.8 86.68Z" fill="#b432f4"/>
<path d="M647.66 90.38L645.63 86.68L649.7 86.68Z" fill="#b432f4"/>
<path d="M638.49 94.02L636.46 90.32L640.53 90.32Z" fill="#b432f4"/>
<path d="M644.93 94.02L642.9 90.32L646.97 90.32Z" fill="#b432f4"/>
<path d="M641.44 97.65L639.4 93.95L643.47 93.95Z" fill="#b432f4"/>
<path d="M644.66 103.43L642.63 99.73L646.7 99.73Z" fill="#b432f4"/>
<path d="M638.51 106.39L636.47 102.69L640.54 102.69Z" fill="#b432f4"/>
<path d="M644.73 113.65L642.69 109.95L646.76 109.95Z" fill="#b432f4"/>
<path d="M638.56 113.65L636.52 109.95L640.59 109.95Z" fill="#b432f4"/>
<line x1="566.9" y1="72.1" x2="566.9" y2="104.38" stroke="#1c1cff" stroke-width="1"/>
<line x1="562.73" y1="72.1" x2="571.07" y2="72.1" stroke="#1c1cff" stroke-width="1"/>
<line x1="562.73" y1="104.38" x2="571.07" y2="104.38" stroke="#1c1cff" stroke-width="1"/>
<line x1="591.6" y1="59.19" x2="591.6" y2="99.54" stroke="#f42828" stroke-width="1"/>
<line x1="587.43" y1="59.19" x2="595.77" y2="59.19" stroke="#f42828" stroke-width="1"/>
<line x1="587.43" y1="99.54" x2="595.77" y2="99.54" stroke="#f42828" stroke-width="1"/>
<line x1="616.6" y1="61.2" x2="616.6" y2="106.93" stroke="#4ad62c" stroke-width="1"/>
<line x1="612.43" y1="61.2" x2="620.77" y2="61.2" stroke="#4ad62c" stroke-width="1"/>
<line x1="612.43" y1="106.93" x2="620.77" y2="106.93" stroke="#4ad62c" stroke-width="1"/>
<line x1="641.7" y1="68.6" x2="641.7" y2="106.26" stroke="#b432f4" stroke-width="1"/>
<line x1="637.53" y1="68.6" x2="645.88" y2="68.6" stroke="#b432f4" stroke-width="1"/>
<line x1="637.53" y1="106.26" x2="645.88" y2="106.26" stroke="#b432f4" stroke-width="1"/>
<line x1="550.2" y1="33.1" x2="550.2" y2="142.3" stroke="#1a1a1a" stroke-width="1.6"/>
<line x1="549.4" y1="141.5" x2="658.9" y2="141.5" stroke="#1a1a1a" stroke-width="1.6"/>
<line x1="546" y1="141.5" x2="550.2" y2="141.5" stroke="#1a1a1a" stroke-width="1.6"/>
<text x="544.7" y="144.45" font-size="8.2" font-weight="bold" text-anchor="end" fill="#000">6</text>
<line x1="546" y1="114.6" x2="550.2" y2="114.6" stroke="#1a1a1a" stroke-width="1.6"/>
<text x="544.7" y="117.55" font-size="8.2" font-weight="bold" text-anchor="end" fill="#000">8</text>
<line x1="546" y1="87.7" x2="550.2" y2="87.7" stroke="#1a1a1a" stroke-width="1.6"/>
<text x="544.7" y="90.65" font-size="8.2" font-weight="bold" text-anchor="end" fill="#000">10</text>
<line x1="546" y1="60.8" x2="550.2" y2="60.8" stroke="#1a1a1a" stroke-width="1.6"/>
<text x="544.7" y="63.75" font-size="8.2" font-weight="bold" text-anchor="end" fill="#000">12</text>
<line x1="546" y1="33.9" x2="550.2" y2="33.9" stroke="#1a1a1a" stroke-width="1.6"/>
<text x="544.7" y="36.85" font-size="8.2" font-weight="bold" text-anchor="end" fill="#000">14</text>
<line x1="566.9" y1="141.5" x2="566.9" y2="145.7" stroke="#1a1a1a" stroke-width="1.6"/>
<line x1="591.6" y1="141.5" x2="591.6" y2="145.7" stroke="#1a1a1a" stroke-width="1.6"/>
<line x1="616.6" y1="141.5" x2="616.6" y2="145.7" stroke="#1a1a1a" stroke-width="1.6"/>
<line x1="641.7" y1="141.5" x2="641.7" y2="145.7" stroke="#1a1a1a" stroke-width="1.6"/>
<text transform="translate(530.2 87.8) rotate(-90)" font-size="10.2" font-weight="bold" text-anchor="middle" fill="#000">Velocity (cm/s)</text>
<line x1="567" y1="35.6" x2="592.1" y2="35.6" stroke="#1a1a1a" stroke-width="1.35"/>
<text x="579.55" y="30.8" font-size="10" text-anchor="middle" fill="#000">ns</text>
<line x1="591.3" y1="24.3" x2="643.7" y2="24.3" stroke="#1a1a1a" stroke-width="1.35"/>
<text x="617.5" y="19.5" font-size="10" text-anchor="middle" fill="#000">ns</text>
<g clip-path="url(#clipD)">
<text transform="translate(568.9 153.7) rotate(-45)" text-anchor="end" font-size="7.8"><tspan font-weight="bold" stroke="#000" stroke-width="0.22" font-size="8.2">p16</tspan><tspan font-size="6.8" letter-spacing="-0.3" stroke="#000" stroke-width="0.12" dy="-5">INK4a flox/flox</tspan><tspan font-weight="bold" stroke="#000" stroke-width="0.22" letter-spacing="0" dy="5" dx="1.4">-saline</tspan></text>
</g>
<text transform="translate(593.6 153.7) rotate(-45)" text-anchor="end" font-size="7.8"><tspan font-weight="bold" stroke="#000" stroke-width="0.22" font-size="8.2">p16</tspan><tspan font-size="6.8" letter-spacing="-0.3" stroke="#000" stroke-width="0.12" dy="-5">INK4a flox/flox</tspan><tspan font-weight="bold" stroke="#000" stroke-width="0.22" letter-spacing="0" dy="5" dx="1.4">-propofol</tspan></text>
<text transform="translate(618.6 153.7) rotate(-45)" text-anchor="end" font-size="7.8"><tspan font-weight="bold" stroke="#000" stroke-width="0.22" font-size="8.2">p16</tspan><tspan font-size="6.8" letter-spacing="-0.3" stroke="#000" stroke-width="0.12" dy="-5">INK4a</tspan><tspan font-weight="bold" stroke="#000" stroke-width="0.22" letter-spacing="0" dy="5" dx="0.6">-CKO-saline</tspan></text>
<text transform="translate(643.7 153.7) rotate(-45)" text-anchor="end" font-size="7.8"><tspan font-weight="bold" stroke="#000" stroke-width="0.22" font-size="8.2">p16</tspan><tspan font-size="6.8" letter-spacing="-0.3" stroke="#000" stroke-width="0.12" dy="-5">INK4a</tspan><tspan font-weight="bold" stroke="#000" stroke-width="0.22" letter-spacing="0" dy="5" dx="0.6">-CKO-propofol</tspan></text>
<text x="510.4" y="14.6" font-size="16.5" stroke="#000" stroke-width="0.6">D</text>
<rect x="62.22" y="303.53" width="15.15" height="53.77" fill="#fff"/>
<rect x="87.12" y="334.26" width="15.15" height="23.04" fill="#fff"/>
<rect x="112.12" y="303.4" width="15.15" height="53.9" fill="#fff"/>
<rect x="136.93" y="319.3" width="15.15" height="38" fill="#fff"/>
<path d="M62.22 357.3V303.53H77.38V357.3" fill="none" stroke="#1c1cff" stroke-width="1.75" stroke-linejoin="miter"/>
<path d="M87.12 357.3V334.26H102.28V357.3" fill="none" stroke="#f42828" stroke-width="1.75" stroke-linejoin="miter"/>
<path d="M112.12 357.3V303.4H127.28V357.3" fill="none" stroke="#4ad62c" stroke-width="1.75" stroke-linejoin="miter"/>
<path d="M136.93 357.3V319.3H152.07V357.3" fill="none" stroke="#b432f4" stroke-width="1.75" stroke-linejoin="miter"/>
<circle cx="69.67" cy="279.55" r="1.85" fill="#1c1cff"/>
<circle cx="63.53" cy="281.03" r="1.85" fill="#1c1cff"/>
<circle cx="75.95" cy="282.38" r="1.85" fill="#1c1cff"/>
<circle cx="63.68" cy="289.66" r="1.85" fill="#1c1cff"/>
<circle cx="75.88" cy="289.66" r="1.85" fill="#1c1cff"/>
<circle cx="69.77" cy="289.66" r="1.85" fill="#1c1cff"/>
<circle cx="66.77" cy="293.43" r="1.85" fill="#1c1cff"/>
<circle cx="72.98" cy="296.26" r="1.85" fill="#1c1cff"/>
<circle cx="75.82" cy="298.55" r="1.85" fill="#1c1cff"/>
<circle cx="69.63" cy="300.7" r="1.85" fill="#1c1cff"/>
<circle cx="63.89" cy="300.7" r="1.85" fill="#1c1cff"/>
<circle cx="66.71" cy="303.67" r="1.85" fill="#1c1cff"/>
<circle cx="76.23" cy="303.67" r="1.85" fill="#1c1cff"/>
<circle cx="63.58" cy="303.67" r="1.85" fill="#1c1cff"/>
<circle cx="69.9" cy="306.5" r="1.85" fill="#1c1cff"/>
<circle cx="73.04" cy="306.5" r="1.85" fill="#1c1cff"/>
<circle cx="73.01" cy="309.46" r="1.85" fill="#1c1cff"/>
<circle cx="66.59" cy="312.29" r="1.85" fill="#1c1cff"/>
<circle cx="72.97" cy="319.57" r="1.85" fill="#1c1cff"/>
<circle cx="66.65" cy="319.57" r="1.85" fill="#1c1cff"/>
<circle cx="69.86" cy="324.02" r="1.85" fill="#1c1cff"/>
<circle cx="70.03" cy="329.14" r="1.85" fill="#1c1cff"/>
<rect x="92.82" y="291.76" width="3.33" height="3.33" fill="#f42828"/>
<rect x="93.03" y="310.63" width="3.33" height="3.33" fill="#f42828"/>
<rect x="93.04" y="315.08" width="3.33" height="3.33" fill="#f42828"/>
<rect x="93.32" y="319.39" width="3.33" height="3.33" fill="#f42828"/>
<rect x="86.6" y="325.18" width="3.33" height="3.33" fill="#f42828"/>
<rect x="99.17" y="327.47" width="3.33" height="3.33" fill="#f42828"/>
<rect x="93.01" y="327.47" width="3.33" height="3.33" fill="#f42828"/>
<rect x="90.05" y="327.47" width="3.33" height="3.33" fill="#f42828"/>
<rect x="96.22" y="327.47" width="3.33" height="3.33" fill="#f42828"/>
<rect x="92.97" y="332.59" width="3.33" height="3.33" fill="#f42828"/>
<rect x="96.18" y="332.59" width="3.33" height="3.33" fill="#f42828"/>
<rect x="99.33" y="332.59" width="3.33" height="3.33" fill="#f42828"/>
<rect x="89.82" y="332.59" width="3.33" height="3.33" fill="#f42828"/>
<rect x="86.57" y="334.75" width="3.33" height="3.33" fill="#f42828"/>
<rect x="98.95" y="339.87" width="3.33" height="3.33" fill="#f42828"/>
<rect x="86.83" y="342.83" width="3.33" height="3.33" fill="#f42828"/>
<rect x="93.12" y="342.83" width="3.33" height="3.33" fill="#f42828"/>
<rect x="92.96" y="344.99" width="3.33" height="3.33" fill="#f42828"/>
<rect x="93.21" y="348.63" width="3.33" height="3.33" fill="#f42828"/>
<rect x="89.95" y="352.27" width="3.33" height="3.33" fill="#f42828"/>
<rect x="96" y="354.28" width="3.33" height="3.33" fill="#f42828"/>
<path d="M119.51 275.92L117.48 279.62L121.55 279.62Z" fill="#4ad62c"/>
<path d="M113.77 278.08L111.74 281.78L115.81 281.78Z" fill="#4ad62c"/>
<path d="M125.93 278.08L123.89 281.78L127.96 281.78Z" fill="#4ad62c"/>
<path d="M119.76 281.72L117.73 285.42L121.8 285.42Z" fill="#4ad62c"/>
<path d="M119.78 286.43L117.74 290.13L121.81 290.13Z" fill="#4ad62c"/>
<path d="M122.84 290.47L120.81 294.17L124.88 294.17Z" fill="#4ad62c"/>
<path d="M116.47 290.47L114.43 294.17L118.5 294.17Z" fill="#4ad62c"/>
<path d="M119.77 294.11L117.73 297.81L121.8 297.81Z" fill="#4ad62c"/>
<path d="M122.85 298.56L120.81 302.26L124.88 302.26Z" fill="#4ad62c"/>
<path d="M116.59 298.56L114.56 302.26L118.63 302.26Z" fill="#4ad62c"/>
<path d="M119.63 302.87L117.6 306.57L121.67 306.57Z" fill="#4ad62c"/>
<path d="M119.74 308.8L117.71 312.5L121.78 312.5Z" fill="#4ad62c"/>
<path d="M126 308.8L123.97 312.5L128.04 312.5Z" fill="#4ad62c"/>
<path d="M113.58 312.3L111.55 316L115.62 316Z" fill="#4ad62c"/>
<path d="M116.6 312.3L114.56 316L118.63 316Z" fill="#4ad62c"/>
<path d="M122.89 312.3L120.85 316L124.92 316Z" fill="#4ad62c"/>
<path d="M119.5 318.23L117.46 321.93L121.53 321.93Z" fill="#4ad62c"/>
<path d="M122.9 326.32L120.87 330.02L124.94 330.02Z" fill="#4ad62c"/>
<path d="M116.72 326.32L114.69 330.02L118.76 330.02Z" fill="#4ad62c"/>
<path d="M144.28 288.97L142.24 285.27L146.31 285.27Z" fill="#b432f4"/>
<path d="M147.51 292.61L145.47 288.91L149.54 288.91Z" fill="#b432f4"/>
<path d="M141.6 292.61L139.56 288.91L143.63 288.91Z" fill="#b432f4"/>
<path d="M141.4 301.37L139.36 297.67L143.43 297.67Z" fill="#b432f4"/>
<path d="M147.74 301.37L145.71 297.67L149.78 297.67Z" fill="#b432f4"/>
<path d="M141.33 305.01L139.3 301.31L143.37 301.31Z" fill="#b432f4"/>
<path d="M147.43 307.16L145.4 303.46L149.47 303.46Z" fill="#b432f4"/>
<path d="M141.32 310.8L139.29 307.1L143.36 307.1Z" fill="#b432f4"/>
<path d="M147.43 310.8L145.39 307.1L149.46 307.1Z" fill="#b432f4"/>
<path d="M141.29 320.37L139.25 316.67L143.32 316.67Z" fill="#b432f4"/>
<path d="M147.48 320.37L145.45 316.67L149.52 316.67Z" fill="#b432f4"/>
<path d="M144.79 327.11L142.76 323.41L146.83 323.41Z" fill="#b432f4"/>
<path d="M144.43 335.19L142.4 331.49L146.47 331.49Z" fill="#b432f4"/>
<path d="M144.58 340.04L142.54 336.34L146.61 336.34Z" fill="#b432f4"/>
<path d="M147.58 343.68L145.54 339.98L149.61 339.98Z" fill="#b432f4"/>
<path d="M141.55 343.68L139.51 339.98L143.58 339.98Z" fill="#b432f4"/>
<path d="M141.26 347.32L139.23 343.62L143.3 343.62Z" fill="#b432f4"/>
<path d="M147.68 347.32L145.64 343.62L149.71 343.62Z" fill="#b432f4"/>
<line x1="69.8" y1="289.39" x2="69.8" y2="317.68" stroke="#1c1cff" stroke-width="1"/>
<line x1="65.58" y1="289.39" x2="74.02" y2="289.39" stroke="#1c1cff" stroke-width="1"/>
<line x1="65.58" y1="317.68" x2="74.02" y2="317.68" stroke="#1c1cff" stroke-width="1"/>
<line x1="94.7" y1="319.44" x2="94.7" y2="349.08" stroke="#f42828" stroke-width="1"/>
<line x1="90.48" y1="319.44" x2="98.92" y2="319.44" stroke="#f42828" stroke-width="1"/>
<line x1="90.48" y1="349.08" x2="98.92" y2="349.08" stroke="#f42828" stroke-width="1"/>
<line x1="119.7" y1="287.23" x2="119.7" y2="319.57" stroke="#4ad62c" stroke-width="1"/>
<line x1="115.48" y1="287.23" x2="123.92" y2="287.23" stroke="#4ad62c" stroke-width="1"/>
<line x1="115.48" y1="319.57" x2="123.92" y2="319.57" stroke="#4ad62c" stroke-width="1"/>
<line x1="144.5" y1="299.09" x2="144.5" y2="339.51" stroke="#b432f4" stroke-width="1"/>
<line x1="140.28" y1="299.09" x2="148.72" y2="299.09" stroke="#b432f4" stroke-width="1"/>
<line x1="140.28" y1="339.51" x2="148.72" y2="339.51" stroke="#b432f4" stroke-width="1"/>
<line x1="53.3" y1="248.7" x2="53.3" y2="358.1" stroke="#1a1a1a" stroke-width="1.6"/>
<line x1="52.5" y1="357.3" x2="161.8" y2="357.3" stroke="#1a1a1a" stroke-width="1.6"/>
<line x1="49.1" y1="357.3" x2="53.3" y2="357.3" stroke="#1a1a1a" stroke-width="1.6"/>
<text x="47.8" y="360.11" font-size="7.8" font-weight="bold" text-anchor="end" fill="#000">20</text>
<line x1="49.1" y1="330.35" x2="53.3" y2="330.35" stroke="#1a1a1a" stroke-width="1.6"/>
<text x="47.8" y="333.16" font-size="7.8" font-weight="bold" text-anchor="end" fill="#000">40</text>
<line x1="49.1" y1="303.4" x2="53.3" y2="303.4" stroke="#1a1a1a" stroke-width="1.6"/>
<text x="47.8" y="306.21" font-size="7.8" font-weight="bold" text-anchor="end" fill="#000">60</text>
<line x1="49.1" y1="276.45" x2="53.3" y2="276.45" stroke="#1a1a1a" stroke-width="1.6"/>
<text x="47.8" y="279.26" font-size="7.8" font-weight="bold" text-anchor="end" fill="#000">80</text>
<line x1="49.1" y1="249.5" x2="53.3" y2="249.5" stroke="#1a1a1a" stroke-width="1.6"/>
<text x="47.8" y="252.31" font-size="7.8" font-weight="bold" text-anchor="end" fill="#000">100</text>
<line x1="69.8" y1="357.3" x2="69.8" y2="361.5" stroke="#1a1a1a" stroke-width="1.6"/>
<line x1="94.7" y1="357.3" x2="94.7" y2="361.5" stroke="#1a1a1a" stroke-width="1.6"/>
<line x1="119.7" y1="357.3" x2="119.7" y2="361.5" stroke="#1a1a1a" stroke-width="1.6"/>
<line x1="144.5" y1="357.3" x2="144.5" y2="361.5" stroke="#1a1a1a" stroke-width="1.6"/>
<text transform="translate(28.9 302.4) rotate(-90)" font-size="10.2" font-weight="bold" text-anchor="middle" fill="#000">%time in target quadrant</text>
<line x1="68" y1="272.3" x2="94.7" y2="272.3" stroke="#1a1a1a" stroke-width="1.35"/>
<text x="81.85" y="272.3" font-size="14.2" font-weight="bold" text-anchor="middle" letter-spacing="1">**</text>
<line x1="94.3" y1="261.4" x2="144.7" y2="261.4" stroke="#1a1a1a" stroke-width="1.35"/>
<text x="120" y="261.4" font-size="14.2" font-weight="bold" text-anchor="middle" letter-spacing="1">**</text>
<text transform="translate(72 369.9) rotate(-45)" text-anchor="end" font-size="7.9"><tspan font-weight="bold" stroke="#000" stroke-width="0.22" font-size="8.4">p16</tspan><tspan font-size="7" letter-spacing="-0.3" stroke="#000" stroke-width="0.12" dy="-4.9">INK4a flox/flox</tspan><tspan font-weight="bold" stroke="#000" stroke-width="0.22" letter-spacing="0" dy="4.9" dx="1.4">-saline</tspan></text>
<text transform="translate(96.9 369.9) rotate(-45)" text-anchor="end" font-size="7.9"><tspan font-weight="bold" stroke="#000" stroke-width="0.22" font-size="8.4">p16</tspan><tspan font-size="7" letter-spacing="-0.3" stroke="#000" stroke-width="0.12" dy="-4.9">INK4a flox/flox</tspan><tspan font-weight="bold" stroke="#000" stroke-width="0.22" letter-spacing="0" dy="4.9" dx="1.4">-propofol</tspan></text>
<text transform="translate(121.9 369.9) rotate(-45)" text-anchor="end" font-size="7.9"><tspan font-weight="bold" stroke="#000" stroke-width="0.22" font-size="8.4">p16</tspan><tspan font-size="7" letter-spacing="-0.3" stroke="#000" stroke-width="0.12" dy="-4.9">INK4a</tspan><tspan font-weight="bold" stroke="#000" stroke-width="0.22" letter-spacing="0" dy="4.9" dx="0.6">-CKO-saline</tspan></text>
<text transform="translate(146.7 369.9) rotate(-45)" text-anchor="end" font-size="7.9"><tspan font-weight="bold" stroke="#000" stroke-width="0.22" font-size="8.4">p16</tspan><tspan font-size="7" letter-spacing="-0.3" stroke="#000" stroke-width="0.12" dy="-4.9">INK4a</tspan><tspan font-weight="bold" stroke="#000" stroke-width="0.22" letter-spacing="0" dy="4.9" dx="0.6">-CKO-propofol</tspan></text>
<text x="5" y="238.1" font-size="16.5" stroke="#000" stroke-width="0.6">E</text>
<rect x="569.3" y="293.87" width="15.6" height="52.83" fill="#fff"/>
<rect x="595" y="312.91" width="15.6" height="33.79" fill="#fff"/>
<rect x="620.6" y="295.93" width="15.6" height="50.77" fill="#fff"/>
<rect x="646.8" y="290.7" width="15.6" height="56" fill="#fff"/>
<path d="M569.3 346.7V293.87H584.9V346.7" fill="none" stroke="#1c1cff" stroke-width="1.8" stroke-linejoin="miter"/>
<path d="M595 346.7V312.91H610.6V346.7" fill="none" stroke="#f42828" stroke-width="1.8" stroke-linejoin="miter"/>
<path d="M620.6 346.7V295.93H636.2V346.7" fill="none" stroke="#4ad62c" stroke-width="1.8" stroke-linejoin="miter"/>
<path d="M646.8 346.7V290.7H662.4V346.7" fill="none" stroke="#b432f4" stroke-width="1.8" stroke-linejoin="miter"/>
<circle cx="574.05" cy="263.82" r="1.85" fill="#1c1cff"/>
<circle cx="580.27" cy="265.87" r="1.85" fill="#1c1cff"/>
<circle cx="574.24" cy="267.37" r="1.85" fill="#1c1cff"/>
<circle cx="580.28" cy="270.17" r="1.85" fill="#1c1cff"/>
<circle cx="583.24" cy="272.41" r="1.85" fill="#1c1cff"/>
<circle cx="577.1" cy="272.41" r="1.85" fill="#1c1cff"/>
<circle cx="570.83" cy="273.9" r="1.85" fill="#1c1cff"/>
<circle cx="580.16" cy="277.63" r="1.85" fill="#1c1cff"/>
<circle cx="574.17" cy="280.43" r="1.85" fill="#1c1cff"/>
<circle cx="577.36" cy="288.46" r="1.85" fill="#1c1cff"/>
<circle cx="577.07" cy="293.69" r="1.85" fill="#1c1cff"/>
<circle cx="576.88" cy="299.47" r="1.85" fill="#1c1cff"/>
<circle cx="580.2" cy="305.45" r="1.85" fill="#1c1cff"/>
<circle cx="573.86" cy="307.5" r="1.85" fill="#1c1cff"/>
<circle cx="577.03" cy="315.53" r="1.85" fill="#1c1cff"/>
<circle cx="583.34" cy="315.53" r="1.85" fill="#1c1cff"/>
<circle cx="571.18" cy="317.77" r="1.85" fill="#1c1cff"/>
<circle cx="574.23" cy="340.35" r="1.85" fill="#1c1cff"/>
<circle cx="580.34" cy="342.59" r="1.85" fill="#1c1cff"/>
<rect x="601.27" y="262.15" width="3.33" height="3.33" fill="#f42828"/>
<rect x="601.38" y="266.07" width="3.33" height="3.33" fill="#f42828"/>
<rect x="607.67" y="284.74" width="3.33" height="3.33" fill="#f42828"/>
<rect x="603.45" y="286.79" width="3.33" height="3.33" fill="#f42828"/>
<rect x="594.59" y="286.79" width="3.33" height="3.33" fill="#f42828"/>
<rect x="599.02" y="286.79" width="3.33" height="3.33" fill="#f42828"/>
<rect x="598.13" y="289.03" width="3.33" height="3.33" fill="#f42828"/>
<rect x="604.21" y="289.03" width="3.33" height="3.33" fill="#f42828"/>
<rect x="598.09" y="302.85" width="3.33" height="3.33" fill="#f42828"/>
<rect x="604.15" y="305.65" width="3.33" height="3.33" fill="#f42828"/>
<rect x="598.12" y="308.07" width="3.33" height="3.33" fill="#f42828"/>
<rect x="604.04" y="308.07" width="3.33" height="3.33" fill="#f42828"/>
<rect x="601.4" y="312.37" width="3.33" height="3.33" fill="#f42828"/>
<rect x="600.86" y="320.58" width="3.33" height="3.33" fill="#f42828"/>
<rect x="607.16" y="324.87" width="3.33" height="3.33" fill="#f42828"/>
<rect x="594.85" y="324.87" width="3.33" height="3.33" fill="#f42828"/>
<rect x="601.15" y="324.87" width="3.33" height="3.33" fill="#f42828"/>
<rect x="607.09" y="335.14" width="3.33" height="3.33" fill="#f42828"/>
<rect x="594.93" y="337.19" width="3.33" height="3.33" fill="#f42828"/>
<rect x="601.3" y="337.19" width="3.33" height="3.33" fill="#f42828"/>
<rect x="601.26" y="343.17" width="3.33" height="3.33" fill="#f42828"/>
<path d="M631.65 255.7L629.62 259.4L633.69 259.4Z" fill="#4ad62c"/>
<path d="M625.32 257.94L623.28 261.64L627.35 261.64Z" fill="#4ad62c"/>
<path d="M631.48 263.73L629.44 267.43L633.51 267.43Z" fill="#4ad62c"/>
<path d="M625.38 266.71L623.34 270.41L627.41 270.41Z" fill="#4ad62c"/>
<path d="M634.45 269.51L632.42 273.21L636.49 273.21Z" fill="#4ad62c"/>
<path d="M622.45 269.51L620.42 273.21L624.49 273.21Z" fill="#4ad62c"/>
<path d="M628.53 272.5L626.49 276.2L630.56 276.2Z" fill="#4ad62c"/>
<path d="M631.44 276.23L629.41 279.93L633.48 279.93Z" fill="#4ad62c"/>
<path d="M625.4 276.23L623.37 279.93L627.44 279.93Z" fill="#4ad62c"/>
<path d="M634.41 292.29L632.37 295.99L636.44 295.99Z" fill="#4ad62c"/>
<path d="M628.32 294.34L626.29 298.04L630.36 298.04Z" fill="#4ad62c"/>
<path d="M622.19 294.34L620.16 298.04L624.23 298.04Z" fill="#4ad62c"/>
<path d="M628.35 296.58L626.31 300.28L630.38 300.28Z" fill="#4ad62c"/>
<path d="M628.21 308.34L626.18 312.04L630.25 312.04Z" fill="#4ad62c"/>
<path d="M628.62 316.37L626.58 320.07L630.65 320.07Z" fill="#4ad62c"/>
<path d="M628.24 321.41L626.21 325.11L630.28 325.11Z" fill="#4ad62c"/>
<path d="M628.43 331.67L626.39 335.37L630.46 335.37Z" fill="#4ad62c"/>
<path d="M631.31 335.41L629.27 339.11L633.34 339.11Z" fill="#4ad62c"/>
<path d="M625.46 338.21L623.42 341.91L627.49 341.91Z" fill="#4ad62c"/>
<path d="M628.65 342.69L626.62 346.39L630.69 346.39Z" fill="#4ad62c"/>
<path d="M654.69 257.75L652.65 254.05L656.72 254.05Z" fill="#b432f4"/>
<path d="M660.76 257.75L658.73 254.05L662.8 254.05Z" fill="#b432f4"/>
<path d="M648.46 259.99L646.42 256.29L650.49 256.29Z" fill="#b432f4"/>
<path d="M654.71 263.73L652.68 260.03L656.75 260.03Z" fill="#b432f4"/>
<path d="M654.63 276.05L652.59 272.35L656.66 272.35Z" fill="#b432f4"/>
<path d="M648.59 286.31L646.56 282.61L650.63 282.61Z" fill="#b432f4"/>
<path d="M654.45 288.55L652.41 284.85L656.48 284.85Z" fill="#b432f4"/>
<path d="M660.71 288.55L658.68 284.85L662.75 284.85Z" fill="#b432f4"/>
<path d="M660.86 291.35L658.83 287.65L662.9 287.65Z" fill="#b432f4"/>
<path d="M648.47 291.35L646.44 287.65L650.51 287.65Z" fill="#b432f4"/>
<path d="M654.41 293.59L652.37 289.89L656.44 289.89Z" fill="#b432f4"/>
<path d="M654.87 295.83L652.83 292.13L656.9 292.13Z" fill="#b432f4"/>
<path d="M657.6 300.87L655.56 297.17L659.63 297.17Z" fill="#b432f4"/>
<path d="M651.46 303.86L649.42 300.16L653.49 300.16Z" fill="#b432f4"/>
<path d="M654.77 308.9L652.74 305.2L656.81 305.2Z" fill="#b432f4"/>
<path d="M648.69 308.9L646.66 305.2L650.73 305.2Z" fill="#b432f4"/>
<path d="M660.82 311.14L658.78 307.44L662.85 307.44Z" fill="#b432f4"/>
<path d="M654.57 315.43L652.54 311.73L656.61 311.73Z" fill="#b432f4"/>
<path d="M654.85 338.21L652.81 334.51L656.88 334.51Z" fill="#b432f4"/>
<line x1="577.1" y1="270.54" x2="577.1" y2="317.21" stroke="#1c1cff" stroke-width="1"/>
<line x1="572.75" y1="270.54" x2="581.45" y2="270.54" stroke="#1c1cff" stroke-width="1"/>
<line x1="572.75" y1="317.21" x2="581.45" y2="317.21" stroke="#1c1cff" stroke-width="1"/>
<line x1="602.8" y1="287.71" x2="602.8" y2="338.11" stroke="#f42828" stroke-width="1"/>
<line x1="598.45" y1="287.71" x2="607.15" y2="287.71" stroke="#f42828" stroke-width="1"/>
<line x1="598.45" y1="338.11" x2="607.15" y2="338.11" stroke="#f42828" stroke-width="1"/>
<line x1="628.4" y1="268.86" x2="628.4" y2="322.99" stroke="#4ad62c" stroke-width="1"/>
<line x1="624.05" y1="268.86" x2="632.75" y2="268.86" stroke="#4ad62c" stroke-width="1"/>
<line x1="624.05" y1="322.99" x2="632.75" y2="322.99" stroke="#4ad62c" stroke-width="1"/>
<line x1="654.6" y1="271.1" x2="654.6" y2="310.3" stroke="#b432f4" stroke-width="1"/>
<line x1="650.25" y1="271.1" x2="658.95" y2="271.1" stroke="#b432f4" stroke-width="1"/>
<line x1="650.25" y1="310.3" x2="658.95" y2="310.3" stroke="#b432f4" stroke-width="1"/>
<line x1="559.7" y1="233.9" x2="559.7" y2="347.5" stroke="#1a1a1a" stroke-width="1.6"/>
<line x1="558.9" y1="346.7" x2="672.5" y2="346.7" stroke="#1a1a1a" stroke-width="1.6"/>
<line x1="555.5" y1="346.7" x2="559.7" y2="346.7" stroke="#1a1a1a" stroke-width="1.6"/>
<text x="554.2" y="350.01" font-size="9.2" font-weight="bold" text-anchor="end" fill="#000">40</text>
<line x1="555.5" y1="309.37" x2="559.7" y2="309.37" stroke="#1a1a1a" stroke-width="1.6"/>
<text x="554.2" y="312.68" font-size="9.2" font-weight="bold" text-anchor="end" fill="#000">60</text>
<line x1="555.5" y1="272.03" x2="559.7" y2="272.03" stroke="#1a1a1a" stroke-width="1.6"/>
<text x="554.2" y="275.35" font-size="9.2" font-weight="bold" text-anchor="end" fill="#000">80</text>
<line x1="555.5" y1="234.7" x2="559.7" y2="234.7" stroke="#1a1a1a" stroke-width="1.6"/>
<text x="554.2" y="238.01" font-size="9.2" font-weight="bold" text-anchor="end" fill="#000">100</text>
<line x1="577.1" y1="346.7" x2="577.1" y2="350.9" stroke="#1a1a1a" stroke-width="1.6"/>
<line x1="602.8" y1="346.7" x2="602.8" y2="350.9" stroke="#1a1a1a" stroke-width="1.6"/>
<line x1="628.4" y1="346.7" x2="628.4" y2="350.9" stroke="#1a1a1a" stroke-width="1.6"/>
<line x1="654.6" y1="346.7" x2="654.6" y2="350.9" stroke="#1a1a1a" stroke-width="1.6"/>
<text transform="translate(534.3 290.8) rotate(-90)" font-size="12.5" font-weight="bold" text-anchor="middle" fill="#000">Altemaion %</text>
<line x1="576.8" y1="252.6" x2="602.8" y2="252.6" stroke="#1a1a1a" stroke-width="1.35"/>
<text x="590.3" y="252.6" font-size="15.8" font-weight="bold" text-anchor="middle" letter-spacing="1">*</text>
<line x1="602.4" y1="238.5" x2="657.8" y2="238.5" stroke="#1a1a1a" stroke-width="1.35"/>
<text x="630.6" y="238.5" font-size="15.8" font-weight="bold" text-anchor="middle" letter-spacing="1">**</text>
<text transform="translate(579.6 359.9) rotate(-45)" text-anchor="end" font-size="8.4"><tspan font-weight="bold" stroke="#000" stroke-width="0.22" font-size="8.8">p16</tspan><tspan font-size="7.1" letter-spacing="-0.3" stroke="#000" stroke-width="0.12" dy="-5.1">INK4a flox/flox</tspan><tspan font-weight="bold" stroke="#000" stroke-width="0.22" letter-spacing="0" dy="5.1" dx="1.5">-saline</tspan></text>
<text transform="translate(605.3 359.9) rotate(-45)" text-anchor="end" font-size="8.4"><tspan font-weight="bold" stroke="#000" stroke-width="0.22" font-size="8.8">p16</tspan><tspan font-size="7.1" letter-spacing="-0.3" stroke="#000" stroke-width="0.12" dy="-5.1">INK4a flox/flox</tspan><tspan font-weight="bold" stroke="#000" stroke-width="0.22" letter-spacing="0" dy="5.1" dx="1.5">-propofol</tspan></text>
<text transform="translate(630.9 359.9) rotate(-45)" text-anchor="end" font-size="8.4"><tspan font-weight="bold" stroke="#000" stroke-width="0.22" font-size="8.8">p16</tspan><tspan font-size="7.1" letter-spacing="-0.3" stroke="#000" stroke-width="0.12" dy="-5.1">INK4a</tspan><tspan font-weight="bold" stroke="#000" stroke-width="0.22" letter-spacing="0" dy="5.1" dx="1.2">-CKO-saline</tspan></text>
<text transform="translate(657.1 359.9) rotate(-45)" text-anchor="end" font-size="8.4"><tspan font-weight="bold" stroke="#000" stroke-width="0.22" font-size="8.8">p16</tspan><tspan font-size="7.1" letter-spacing="-0.3" stroke="#000" stroke-width="0.12" dy="-5.1">INK4a</tspan><tspan font-weight="bold" stroke="#000" stroke-width="0.22" letter-spacing="0" dy="5.1" dx="1.2">-CKO-propofol</tspan></text>
<text x="510.8" y="238.1" font-size="16.5" stroke="#000" stroke-width="0.6">G</text>
<rect x="56.6" y="540.2" width="16.8" height="61.1" fill="#fff"/>
<rect x="84.5" y="538.22" width="16.8" height="63.08" fill="#fff"/>
<rect x="112.4" y="543.08" width="16.8" height="58.22" fill="#fff"/>
<rect x="140.5" y="540.65" width="16.8" height="60.65" fill="#fff"/>
<path d="M56.6 601.3V540.2H73.4V601.3" fill="none" stroke="#1c1cff" stroke-width="1.9" stroke-linejoin="miter"/>
<path d="M84.5 601.3V538.22H101.3V601.3" fill="none" stroke="#f42828" stroke-width="1.9" stroke-linejoin="miter"/>
<path d="M112.4 601.3V543.08H129.2V601.3" fill="none" stroke="#4ad62c" stroke-width="1.9" stroke-linejoin="miter"/>
<path d="M140.5 601.3V540.65H157.3V601.3" fill="none" stroke="#b432f4" stroke-width="1.9" stroke-linejoin="miter"/>
<circle cx="64.74" cy="497.64" r="2" fill="#1c1cff"/>
<circle cx="65.06" cy="511.47" r="2" fill="#1c1cff"/>
<circle cx="68.32" cy="515.42" r="2" fill="#1c1cff"/>
<circle cx="61.64" cy="515.42" r="2" fill="#1c1cff"/>
<circle cx="62.73" cy="523.48" r="2" fill="#1c1cff"/>
<circle cx="67.29" cy="524.54" r="2" fill="#1c1cff"/>
<circle cx="72" cy="524.54" r="2" fill="#1c1cff"/>
<circle cx="58.14" cy="524.54" r="2" fill="#1c1cff"/>
<circle cx="68.19" cy="528.95" r="2" fill="#1c1cff"/>
<circle cx="61.78" cy="528.95" r="2" fill="#1c1cff"/>
<circle cx="71.6" cy="541.41" r="2" fill="#1c1cff"/>
<circle cx="64.92" cy="541.41" r="2" fill="#1c1cff"/>
<circle cx="58.23" cy="541.41" r="2" fill="#1c1cff"/>
<circle cx="65.15" cy="547.04" r="2" fill="#1c1cff"/>
<circle cx="58.55" cy="547.04" r="2" fill="#1c1cff"/>
<circle cx="71.51" cy="550.68" r="2" fill="#1c1cff"/>
<circle cx="64.92" cy="556.61" r="2" fill="#1c1cff"/>
<circle cx="58.45" cy="571.96" r="2" fill="#1c1cff"/>
<circle cx="71.6" cy="571.96" r="2" fill="#1c1cff"/>
<circle cx="64.94" cy="571.96" r="2" fill="#1c1cff"/>
<circle cx="64.81" cy="585.19" r="2" fill="#1c1cff"/>
<rect x="90.92" y="494.62" width="3.6" height="3.6" fill="#f42828"/>
<rect x="91.17" y="507.24" width="3.6" height="3.6" fill="#f42828"/>
<rect x="94.58" y="513.62" width="3.6" height="3.6" fill="#f42828"/>
<rect x="87.73" y="513.62" width="3.6" height="3.6" fill="#f42828"/>
<rect x="87.59" y="524.87" width="3.6" height="3.6" fill="#f42828"/>
<rect x="98.22" y="524.87" width="3.6" height="3.6" fill="#f42828"/>
<rect x="84.12" y="524.87" width="3.6" height="3.6" fill="#f42828"/>
<rect x="94.51" y="527.45" width="3.6" height="3.6" fill="#f42828"/>
<rect x="91.24" y="527.45" width="3.6" height="3.6" fill="#f42828"/>
<rect x="87.84" y="533.99" width="3.6" height="3.6" fill="#f42828"/>
<rect x="94.25" y="535.66" width="3.6" height="3.6" fill="#f42828"/>
<rect x="94.45" y="541.13" width="3.6" height="3.6" fill="#f42828"/>
<rect x="87.77" y="541.13" width="3.6" height="3.6" fill="#f42828"/>
<rect x="84.57" y="549.95" width="3.6" height="3.6" fill="#f42828"/>
<rect x="97.59" y="553.14" width="3.6" height="3.6" fill="#f42828"/>
<rect x="91.16" y="553.14" width="3.6" height="3.6" fill="#f42828"/>
<rect x="90.97" y="558.92" width="3.6" height="3.6" fill="#f42828"/>
<rect x="97.65" y="560.44" width="3.6" height="3.6" fill="#f42828"/>
<rect x="84.44" y="562.11" width="3.6" height="3.6" fill="#f42828"/>
<rect x="90.89" y="570.47" width="3.6" height="3.6" fill="#f42828"/>
<path d="M117.53 497.29L115.33 501.29L119.73 501.29Z" fill="#4ad62c"/>
<path d="M123.92 500.18L121.72 504.18L126.12 504.18Z" fill="#4ad62c"/>
<path d="M120.71 513.4L118.51 517.4L122.91 517.4Z" fill="#4ad62c"/>
<path d="M127.53 513.4L125.33 517.4L129.73 517.4Z" fill="#4ad62c"/>
<path d="M114.39 513.4L112.19 517.4L116.59 517.4Z" fill="#4ad62c"/>
<path d="M120.83 523.74L118.63 527.74L123.03 527.74Z" fill="#4ad62c"/>
<path d="M123.23 540.61L121.03 544.61L125.43 544.61Z" fill="#4ad62c"/>
<path d="M118.64 540.61L116.44 544.61L120.84 544.61Z" fill="#4ad62c"/>
<path d="M113.56 540.61L111.36 544.61L115.76 544.61Z" fill="#4ad62c"/>
<path d="M127.79 540.61L125.59 544.61L129.99 544.61Z" fill="#4ad62c"/>
<path d="M124.21 544.72L122.01 548.72L126.41 548.72Z" fill="#4ad62c"/>
<path d="M117.6 544.72L115.4 548.72L119.8 548.72Z" fill="#4ad62c"/>
<path d="M117.32 548.82L115.12 552.82L119.52 552.82Z" fill="#4ad62c"/>
<path d="M124.2 552.62L122 556.62L126.4 556.62Z" fill="#4ad62c"/>
<path d="M120.82 558.4L118.62 562.4L123.02 562.4Z" fill="#4ad62c"/>
<path d="M127.36 560.83L125.16 564.83L129.56 564.83Z" fill="#4ad62c"/>
<path d="M114.33 560.83L112.13 564.83L116.53 564.83Z" fill="#4ad62c"/>
<path d="M124.11 569.64L121.91 573.64L126.31 573.64Z" fill="#4ad62c"/>
<path d="M117.41 569.64L115.21 573.64L119.61 573.64Z" fill="#4ad62c"/>
<path d="M120.58 575.72L118.38 579.72L122.78 579.72Z" fill="#4ad62c"/>
<path d="M149.1 508.47L146.9 504.47L151.3 504.47Z" fill="#b432f4"/>
<path d="M155.55 512.88L153.35 508.88L157.75 508.88Z" fill="#b432f4"/>
<path d="M148.86 512.88L146.66 508.88L151.06 508.88Z" fill="#b432f4"/>
<path d="M142.3 516.07L140.1 512.07L144.5 512.07Z" fill="#b432f4"/>
<path d="M144.66 525.19L142.46 521.19L146.86 521.19Z" fill="#b432f4"/>
<path d="M156.07 525.19L153.87 521.19L158.27 521.19Z" fill="#b432f4"/>
<path d="M147.62 527.62L145.42 523.62L149.82 523.62Z" fill="#b432f4"/>
<path d="M150.4 527.62L148.2 523.62L152.6 523.62Z" fill="#b432f4"/>
<path d="M141.72 527.62L139.52 523.62L143.92 523.62Z" fill="#b432f4"/>
<path d="M153.08 527.62L150.88 523.62L155.28 523.62Z" fill="#b432f4"/>
<path d="M145.6 530.51L143.4 526.51L147.8 526.51Z" fill="#b432f4"/>
<path d="M152.01 534.16L149.81 530.16L154.21 530.16Z" fill="#b432f4"/>
<path d="M149.01 538.87L146.81 534.87L151.21 534.87Z" fill="#b432f4"/>
<path d="M152.18 547.68L149.98 543.68L154.38 543.68Z" fill="#b432f4"/>
<path d="M145.76 547.68L143.56 543.68L147.96 543.68Z" fill="#b432f4"/>
<path d="M155.34 551.79L153.14 547.79L157.54 547.79Z" fill="#b432f4"/>
<path d="M148.74 551.79L146.54 547.79L150.94 547.79Z" fill="#b432f4"/>
<path d="M142.4 551.79L140.2 547.79L144.6 547.79Z" fill="#b432f4"/>
<path d="M145.76 557.26L143.56 553.26L147.96 553.26Z" fill="#b432f4"/>
<path d="M152.14 557.26L149.94 553.26L154.34 553.26Z" fill="#b432f4"/>
<path d="M148.87 563.04L146.67 559.04L151.07 559.04Z" fill="#b432f4"/>
<path d="M142.38 563.04L140.18 559.04L144.58 559.04Z" fill="#b432f4"/>
<path d="M155.5 566.23L153.3 562.23L157.7 562.23Z" fill="#b432f4"/>
<path d="M149 573.37L146.8 569.37L151.2 569.37Z" fill="#b432f4"/>
<line x1="65" y1="517.4" x2="65" y2="563" stroke="#1c1cff" stroke-width="1"/>
<line x1="60.33" y1="517.4" x2="69.67" y2="517.4" stroke="#1c1cff" stroke-width="1"/>
<line x1="60.33" y1="563" x2="69.67" y2="563" stroke="#1c1cff" stroke-width="1"/>
<line x1="92.9" y1="518.46" x2="92.9" y2="557.98" stroke="#f42828" stroke-width="1"/>
<line x1="88.23" y1="518.46" x2="97.58" y2="518.46" stroke="#f42828" stroke-width="1"/>
<line x1="88.23" y1="557.98" x2="97.58" y2="557.98" stroke="#f42828" stroke-width="1"/>
<line x1="120.8" y1="520.28" x2="120.8" y2="565.88" stroke="#4ad62c" stroke-width="1"/>
<line x1="116.12" y1="520.28" x2="125.47" y2="520.28" stroke="#4ad62c" stroke-width="1"/>
<line x1="116.12" y1="565.88" x2="125.47" y2="565.88" stroke="#4ad62c" stroke-width="1"/>
<line x1="148.9" y1="522.41" x2="148.9" y2="558.89" stroke="#b432f4" stroke-width="1"/>
<line x1="144.22" y1="522.41" x2="153.58" y2="522.41" stroke="#b432f4" stroke-width="1"/>
<line x1="144.22" y1="558.89" x2="153.58" y2="558.89" stroke="#b432f4" stroke-width="1"/>
<line x1="46.7" y1="478.85" x2="46.7" y2="602.15" stroke="#1a1a1a" stroke-width="1.7"/>
<line x1="45.85" y1="601.3" x2="161.8" y2="601.3" stroke="#1a1a1a" stroke-width="1.7"/>
<line x1="41.7" y1="601.3" x2="46.7" y2="601.3" stroke="#1a1a1a" stroke-width="1.7"/>
<text x="39.6" y="604.68" font-size="9.4" font-weight="bold" text-anchor="end" fill="#000">6</text>
<line x1="41.7" y1="570.9" x2="46.7" y2="570.9" stroke="#1a1a1a" stroke-width="1.7"/>
<text x="39.6" y="574.28" font-size="9.4" font-weight="bold" text-anchor="end" fill="#000">8</text>
<line x1="41.7" y1="540.5" x2="46.7" y2="540.5" stroke="#1a1a1a" stroke-width="1.7"/>
<text x="39.6" y="543.88" font-size="9.4" font-weight="bold" text-anchor="end" fill="#000">10</text>
<line x1="41.7" y1="510.1" x2="46.7" y2="510.1" stroke="#1a1a1a" stroke-width="1.7"/>
<text x="39.6" y="513.48" font-size="9.4" font-weight="bold" text-anchor="end" fill="#000">12</text>
<line x1="41.7" y1="479.7" x2="46.7" y2="479.7" stroke="#1a1a1a" stroke-width="1.7"/>
<text x="39.6" y="483.08" font-size="9.4" font-weight="bold" text-anchor="end" fill="#000">14</text>
<line x1="65" y1="601.3" x2="65" y2="606.3" stroke="#1a1a1a" stroke-width="1.7"/>
<line x1="92.9" y1="601.3" x2="92.9" y2="606.3" stroke="#1a1a1a" stroke-width="1.7"/>
<line x1="120.8" y1="601.3" x2="120.8" y2="606.3" stroke="#1a1a1a" stroke-width="1.7"/>
<line x1="148.9" y1="601.3" x2="148.9" y2="606.3" stroke="#1a1a1a" stroke-width="1.7"/>
<text transform="translate(23.4 540.8) rotate(-90)" font-size="11.4" font-weight="bold" text-anchor="middle" fill="#000">Velocity (cm/s)</text>
<line x1="66.3" y1="484" x2="91.9" y2="484" stroke="#1a1a1a" stroke-width="1.35"/>
<text x="79.1" y="478.3" font-size="11" text-anchor="middle" fill="#000">ns</text>
<line x1="90" y1="472.6" x2="148.9" y2="472.6" stroke="#1a1a1a" stroke-width="1.35"/>
<text x="119.45" y="466.9" font-size="11" text-anchor="middle" fill="#000">ns</text>
<text transform="translate(67.8 615.3) rotate(-45)" text-anchor="end" font-size="9.1"><tspan font-weight="bold" stroke="#000" stroke-width="0.22" font-size="9.6">p16</tspan><tspan font-size="7.5" letter-spacing="-0.4" stroke="#000" stroke-width="0.12" dy="-5">INK4a flox/flox</tspan><tspan font-weight="bold" stroke="#000" stroke-width="0.22" letter-spacing="0" dy="5" dx="1.2">-saline</tspan></text>
<text transform="translate(95.7 615.3) rotate(-45)" text-anchor="end" font-size="9.1"><tspan font-weight="bold" stroke="#000" stroke-width="0.22" font-size="9.6">p16</tspan><tspan font-size="7.5" letter-spacing="-0.4" stroke="#000" stroke-width="0.12" dy="-5">INK4a flox/flox</tspan><tspan font-weight="bold" stroke="#000" stroke-width="0.22" letter-spacing="0" dy="5" dx="1.2">-propofol</tspan></text>
<text transform="translate(123.6 615.3) rotate(-45)" text-anchor="end" font-size="9.1"><tspan font-weight="bold" stroke="#000" stroke-width="0.22" font-size="9.6">p16</tspan><tspan font-size="7.5" letter-spacing="-0.4" stroke="#000" stroke-width="0.12" dy="-5">INK4a</tspan><tspan font-weight="bold" stroke="#000" stroke-width="0.22" letter-spacing="0" dy="5" dx="1.6">-CKO-saline</tspan></text>
<text transform="translate(151.7 615.3) rotate(-45)" text-anchor="end" font-size="9.1"><tspan font-weight="bold" stroke="#000" stroke-width="0.22" font-size="9.6">p16</tspan><tspan font-size="7.5" letter-spacing="-0.4" stroke="#000" stroke-width="0.12" dy="-5">INK4a</tspan><tspan font-weight="bold" stroke="#000" stroke-width="0.22" letter-spacing="0" dy="5" dx="1.6">-CKO-propofol</tspan></text>
<text x="4.1" y="459.9" font-size="17" stroke="#000" stroke-width="0.6">H</text>
<rect x="227.55" y="531.7" width="17.3" height="66.3" fill="#fff"/>
<rect x="256.05" y="533.88" width="17.3" height="64.12" fill="#fff"/>
<rect x="284.85" y="529.84" width="17.3" height="68.16" fill="#fff"/>
<rect x="313.65" y="537.62" width="17.3" height="60.38" fill="#fff"/>
<path d="M227.55 598V531.7H244.85V598" fill="none" stroke="#1c1cff" stroke-width="1.9" stroke-linejoin="miter"/>
<path d="M256.05 598V533.88H273.35V598" fill="none" stroke="#f42828" stroke-width="1.9" stroke-linejoin="miter"/>
<path d="M284.85 598V529.84H302.15V598" fill="none" stroke="#4ad62c" stroke-width="1.9" stroke-linejoin="miter"/>
<path d="M313.65 598V537.62H330.95V598" fill="none" stroke="#b432f4" stroke-width="1.9" stroke-linejoin="miter"/>
<circle cx="236.07" cy="479.73" r="2" fill="#1c1cff"/>
<circle cx="233.8" cy="510.85" r="2" fill="#1c1cff"/>
<circle cx="228.88" cy="510.85" r="2" fill="#1c1cff"/>
<circle cx="238.63" cy="510.85" r="2" fill="#1c1cff"/>
<circle cx="243.51" cy="510.85" r="2" fill="#1c1cff"/>
<circle cx="239.31" cy="517.08" r="2" fill="#1c1cff"/>
<circle cx="232.88" cy="520.19" r="2" fill="#1c1cff"/>
<circle cx="233.01" cy="523.3" r="2" fill="#1c1cff"/>
<circle cx="239.31" cy="526.41" r="2" fill="#1c1cff"/>
<circle cx="232.92" cy="529.52" r="2" fill="#1c1cff"/>
<circle cx="239.5" cy="532.64" r="2" fill="#1c1cff"/>
<circle cx="232.77" cy="535.75" r="2" fill="#1c1cff"/>
<circle cx="239.32" cy="538.86" r="2" fill="#1c1cff"/>
<circle cx="232.93" cy="541.98" r="2" fill="#1c1cff"/>
<circle cx="239.38" cy="545.09" r="2" fill="#1c1cff"/>
<circle cx="239.62" cy="548.2" r="2" fill="#1c1cff"/>
<circle cx="232.89" cy="551.31" r="2" fill="#1c1cff"/>
<circle cx="233.08" cy="557.54" r="2" fill="#1c1cff"/>
<circle cx="239.39" cy="560.65" r="2" fill="#1c1cff"/>
<circle cx="236.03" cy="563.76" r="2" fill="#1c1cff"/>
<rect x="270.3" y="493.49" width="3.6" height="3.6" fill="#f42828"/>
<rect x="260.57" y="493.49" width="3.6" height="3.6" fill="#f42828"/>
<rect x="265.42" y="496.6" width="3.6" height="3.6" fill="#f42828"/>
<rect x="255.7" y="496.6" width="3.6" height="3.6" fill="#f42828"/>
<rect x="259.73" y="509.05" width="3.6" height="3.6" fill="#f42828"/>
<rect x="266.33" y="512.16" width="3.6" height="3.6" fill="#f42828"/>
<rect x="262.66" y="518.39" width="3.6" height="3.6" fill="#f42828"/>
<rect x="263.12" y="527.73" width="3.6" height="3.6" fill="#f42828"/>
<rect x="266.16" y="533.95" width="3.6" height="3.6" fill="#f42828"/>
<rect x="259.8" y="537.06" width="3.6" height="3.6" fill="#f42828"/>
<rect x="266.3" y="540.18" width="3.6" height="3.6" fill="#f42828"/>
<rect x="259.63" y="543.29" width="3.6" height="3.6" fill="#f42828"/>
<rect x="260.62" y="546.4" width="3.6" height="3.6" fill="#f42828"/>
<rect x="270.36" y="546.4" width="3.6" height="3.6" fill="#f42828"/>
<rect x="255.71" y="546.4" width="3.6" height="3.6" fill="#f42828"/>
<rect x="265.29" y="549.51" width="3.6" height="3.6" fill="#f42828"/>
<rect x="259.56" y="555.74" width="3.6" height="3.6" fill="#f42828"/>
<rect x="266.12" y="558.85" width="3.6" height="3.6" fill="#f42828"/>
<rect x="259.46" y="561.96" width="3.6" height="3.6" fill="#f42828"/>
<rect x="266.33" y="561.96" width="3.6" height="3.6" fill="#f42828"/>
<path d="M290.15 492.97L287.95 496.97L292.35 496.97Z" fill="#4ad62c"/>
<path d="M296.84 496.08L294.64 500.08L299.04 500.08Z" fill="#4ad62c"/>
<path d="M295.89 511.64L293.69 515.64L298.09 515.64Z" fill="#4ad62c"/>
<path d="M300.87 511.64L298.67 515.64L303.07 515.64Z" fill="#4ad62c"/>
<path d="M290.97 511.64L288.77 515.64L293.17 515.64Z" fill="#4ad62c"/>
<path d="M286.3 514.75L284.1 518.75L288.5 518.75Z" fill="#4ad62c"/>
<path d="M296.8 517.87L294.6 521.87L299 521.87Z" fill="#4ad62c"/>
<path d="M290.38 520.98L288.18 524.98L292.58 524.98Z" fill="#4ad62c"/>
<path d="M290.29 524.09L288.09 528.09L292.49 528.09Z" fill="#4ad62c"/>
<path d="M296.84 527.2L294.64 531.2L299.04 531.2Z" fill="#4ad62c"/>
<path d="M290.33 530.32L288.13 534.32L292.53 534.32Z" fill="#4ad62c"/>
<path d="M296.94 533.43L294.74 537.43L299.14 537.43Z" fill="#4ad62c"/>
<path d="M296.86 536.54L294.66 540.54L299.06 540.54Z" fill="#4ad62c"/>
<path d="M290.06 539.65L287.86 543.65L292.26 543.65Z" fill="#4ad62c"/>
<path d="M290.03 542.77L287.83 546.77L292.23 546.77Z" fill="#4ad62c"/>
<path d="M296.89 545.88L294.69 549.88L299.09 549.88Z" fill="#4ad62c"/>
<path d="M296.76 548.99L294.56 552.99L298.96 552.99Z" fill="#4ad62c"/>
<path d="M290.19 552.1L287.99 556.1L292.39 556.1Z" fill="#4ad62c"/>
<path d="M290.22 555.22L288.02 559.22L292.42 559.22Z" fill="#4ad62c"/>
<path d="M296.77 558.33L294.57 562.33L298.97 562.33Z" fill="#4ad62c"/>
<path d="M322.29 482.05L320.09 478.05L324.49 478.05Z" fill="#b432f4"/>
<path d="M322.4 494.5L320.2 490.5L324.6 490.5Z" fill="#b432f4"/>
<path d="M322.37 503.83L320.17 499.83L324.57 499.83Z" fill="#b432f4"/>
<path d="M315.86 516.28L313.66 512.28L318.06 512.28Z" fill="#b432f4"/>
<path d="M322.4 516.28L320.2 512.28L324.6 512.28Z" fill="#b432f4"/>
<path d="M328.77 516.28L326.57 512.28L330.97 512.28Z" fill="#b432f4"/>
<path d="M322.13 522.51L319.93 518.51L324.33 518.51Z" fill="#b432f4"/>
<path d="M322.27 531.85L320.07 527.85L324.47 527.85Z" fill="#b432f4"/>
<path d="M322.23 538.07L320.03 534.07L324.43 534.07Z" fill="#b432f4"/>
<path d="M322.58 544.3L320.38 540.3L324.78 540.3Z" fill="#b432f4"/>
<path d="M318.99 550.52L316.79 546.52L321.19 546.52Z" fill="#b432f4"/>
<path d="M325.54 553.63L323.34 549.63L327.74 549.63Z" fill="#b432f4"/>
<path d="M325.67 556.75L323.47 552.75L327.87 552.75Z" fill="#b432f4"/>
<path d="M319.09 559.86L316.89 555.86L321.29 555.86Z" fill="#b432f4"/>
<path d="M315.01 562.97L312.81 558.97L317.21 558.97Z" fill="#b432f4"/>
<path d="M329.41 562.97L327.21 558.97L331.61 558.97Z" fill="#b432f4"/>
<path d="M324.69 562.97L322.49 558.97L326.89 558.97Z" fill="#b432f4"/>
<path d="M319.83 566.08L317.63 562.08L322.03 562.08Z" fill="#b432f4"/>
<path d="M325.52 569.2L323.32 565.2L327.72 565.2Z" fill="#b432f4"/>
<path d="M319.07 569.2L316.87 565.2L321.27 565.2Z" fill="#b432f4"/>
<line x1="236.2" y1="513.03" x2="236.2" y2="550.38" stroke="#1c1cff" stroke-width="1"/>
<line x1="231.4" y1="513.03" x2="241" y2="513.03" stroke="#1c1cff" stroke-width="1"/>
<line x1="231.4" y1="550.38" x2="241" y2="550.38" stroke="#1c1cff" stroke-width="1"/>
<line x1="264.7" y1="510.54" x2="264.7" y2="557.23" stroke="#f42828" stroke-width="1"/>
<line x1="259.9" y1="510.54" x2="269.5" y2="510.54" stroke="#f42828" stroke-width="1"/>
<line x1="259.9" y1="557.23" x2="269.5" y2="557.23" stroke="#f42828" stroke-width="1"/>
<line x1="293.5" y1="512.72" x2="293.5" y2="546.96" stroke="#4ad62c" stroke-width="1"/>
<line x1="288.7" y1="512.72" x2="298.3" y2="512.72" stroke="#4ad62c" stroke-width="1"/>
<line x1="288.7" y1="546.96" x2="298.3" y2="546.96" stroke="#4ad62c" stroke-width="1"/>
<line x1="322.3" y1="511.16" x2="322.3" y2="564.07" stroke="#b432f4" stroke-width="1"/>
<line x1="317.5" y1="511.16" x2="327.1" y2="511.16" stroke="#b432f4" stroke-width="1"/>
<line x1="317.5" y1="564.07" x2="327.1" y2="564.07" stroke="#b432f4" stroke-width="1"/>
<line x1="216.9" y1="472.65" x2="216.9" y2="598.85" stroke="#1a1a1a" stroke-width="1.7"/>
<line x1="216.05" y1="598" x2="331.6" y2="598" stroke="#1a1a1a" stroke-width="1.7"/>
<line x1="211.9" y1="598" x2="216.9" y2="598" stroke="#1a1a1a" stroke-width="1.7"/>
<text x="209.8" y="601.38" font-size="9.4" font-weight="bold" text-anchor="end" fill="#000">30</text>
<line x1="211.9" y1="566.88" x2="216.9" y2="566.88" stroke="#1a1a1a" stroke-width="1.7"/>
<text x="209.8" y="570.26" font-size="9.4" font-weight="bold" text-anchor="end" fill="#000">40</text>
<line x1="211.9" y1="535.75" x2="216.9" y2="535.75" stroke="#1a1a1a" stroke-width="1.7"/>
<text x="209.8" y="539.13" font-size="9.4" font-weight="bold" text-anchor="end" fill="#000">50</text>
<line x1="211.9" y1="504.62" x2="216.9" y2="504.62" stroke="#1a1a1a" stroke-width="1.7"/>
<text x="209.8" y="508.01" font-size="9.4" font-weight="bold" text-anchor="end" fill="#000">60</text>
<line x1="211.9" y1="473.5" x2="216.9" y2="473.5" stroke="#1a1a1a" stroke-width="1.7"/>
<text x="209.8" y="476.88" font-size="9.4" font-weight="bold" text-anchor="end" fill="#000">70</text>
<line x1="236.2" y1="598" x2="236.2" y2="603" stroke="#1a1a1a" stroke-width="1.7"/>
<line x1="264.7" y1="598" x2="264.7" y2="603" stroke="#1a1a1a" stroke-width="1.7"/>
<line x1="293.5" y1="598" x2="293.5" y2="603" stroke="#1a1a1a" stroke-width="1.7"/>
<line x1="322.3" y1="598" x2="322.3" y2="603" stroke="#1a1a1a" stroke-width="1.7"/>
<text transform="translate(194.2 535.1) rotate(-90)" font-size="10.3" font-weight="bold" text-anchor="middle" fill="#000">Preferance index</text>
<line x1="237.5" y1="477.7" x2="263.8" y2="477.7" stroke="#1a1a1a" stroke-width="1.35"/>
<text x="250.65" y="472" font-size="11" text-anchor="middle" fill="#000">ns</text>
<line x1="261.8" y1="465.3" x2="322.6" y2="465.3" stroke="#1a1a1a" stroke-width="1.35"/>
<text x="292.2" y="459.6" font-size="11" text-anchor="middle" fill="#000">ns</text>
<text transform="translate(239 612) rotate(-45)" text-anchor="end" font-size="9.1"><tspan font-weight="bold" stroke="#000" stroke-width="0.22" font-size="9.6">p16</tspan><tspan font-size="7.5" letter-spacing="-0.4" stroke="#000" stroke-width="0.12" dy="-5">INK4a flox/flox</tspan><tspan font-weight="bold" stroke="#000" stroke-width="0.22" letter-spacing="0" dy="5" dx="1.2">-saline</tspan></text>
<text transform="translate(267.5 612) rotate(-45)" text-anchor="end" font-size="9.1"><tspan font-weight="bold" stroke="#000" stroke-width="0.22" font-size="9.6">p16</tspan><tspan font-size="7.5" letter-spacing="-0.4" stroke="#000" stroke-width="0.12" dy="-5">INK4a flox/flox</tspan><tspan font-weight="bold" stroke="#000" stroke-width="0.22" letter-spacing="0" dy="5" dx="1.2">-propofol</tspan></text>
<text transform="translate(296.3 612) rotate(-45)" text-anchor="end" font-size="9.1"><tspan font-weight="bold" stroke="#000" stroke-width="0.22" font-size="9.6">p16</tspan><tspan font-size="7.5" letter-spacing="-0.4" stroke="#000" stroke-width="0.12" dy="-5">INK4a</tspan><tspan font-weight="bold" stroke="#000" stroke-width="0.22" letter-spacing="0" dy="5" dx="1.6">-CKO-saline</tspan></text>
<text transform="translate(325.1 612) rotate(-45)" text-anchor="end" font-size="9.1"><tspan font-weight="bold" stroke="#000" stroke-width="0.22" font-size="9.6">p16</tspan><tspan font-size="7.5" letter-spacing="-0.4" stroke="#000" stroke-width="0.12" dy="-5">INK4a</tspan><tspan font-weight="bold" stroke="#000" stroke-width="0.22" letter-spacing="0" dy="5" dx="1.6">-CKO-propofol</tspan></text>
<text x="192.1" y="458.6" font-size="17" stroke="#000" stroke-width="0.6">I</text>
<rect x="397.55" y="533.58" width="17.3" height="64.52" fill="#fff"/>
<rect x="426.15" y="560.39" width="17.3" height="37.71" fill="#fff"/>
<rect x="454.85" y="535.01" width="17.3" height="63.09" fill="#fff"/>
<rect x="483.75" y="545.56" width="17.3" height="52.54" fill="#fff"/>
<path d="M397.55 598.1V533.58H414.85V598.1" fill="none" stroke="#1c1cff" stroke-width="1.9" stroke-linejoin="miter"/>
<path d="M426.15 598.1V560.39H443.45V598.1" fill="none" stroke="#f42828" stroke-width="1.9" stroke-linejoin="miter"/>
<path d="M454.85 598.1V535.01H472.15V598.1" fill="none" stroke="#4ad62c" stroke-width="1.9" stroke-linejoin="miter"/>
<path d="M483.75 598.1V545.56H501.05V598.1" fill="none" stroke="#b432f4" stroke-width="1.9" stroke-linejoin="miter"/>
<circle cx="409.62" cy="510.53" r="2" fill="#1c1cff"/>
<circle cx="402.83" cy="513.03" r="2" fill="#1c1cff"/>
<circle cx="409.67" cy="517.5" r="2" fill="#1c1cff"/>
<circle cx="403.05" cy="517.5" r="2" fill="#1c1cff"/>
<circle cx="408.54" cy="524.47" r="2" fill="#1c1cff"/>
<circle cx="403.78" cy="524.47" r="2" fill="#1c1cff"/>
<circle cx="413.37" cy="524.47" r="2" fill="#1c1cff"/>
<circle cx="399.02" cy="526.26" r="2" fill="#1c1cff"/>
<circle cx="402.9" cy="530.72" r="2" fill="#1c1cff"/>
<circle cx="409.3" cy="532.33" r="2" fill="#1c1cff"/>
<circle cx="406.33" cy="535.01" r="2" fill="#1c1cff"/>
<circle cx="399.45" cy="537.69" r="2" fill="#1c1cff"/>
<circle cx="412.78" cy="537.69" r="2" fill="#1c1cff"/>
<circle cx="399.49" cy="539.3" r="2" fill="#1c1cff"/>
<circle cx="406.1" cy="539.3" r="2" fill="#1c1cff"/>
<circle cx="412.87" cy="541.98" r="2" fill="#1c1cff"/>
<circle cx="408.66" cy="543.77" r="2" fill="#1c1cff"/>
<circle cx="399.04" cy="543.77" r="2" fill="#1c1cff"/>
<circle cx="403.94" cy="546.45" r="2" fill="#1c1cff"/>
<circle cx="413.59" cy="546.45" r="2" fill="#1c1cff"/>
<circle cx="406.33" cy="548.24" r="2" fill="#1c1cff"/>
<rect x="432.79" y="520.88" width="3.6" height="3.6" fill="#f42828"/>
<rect x="432.81" y="528.92" width="3.6" height="3.6" fill="#f42828"/>
<rect x="436.23" y="534.11" width="3.6" height="3.6" fill="#f42828"/>
<rect x="429.61" y="535" width="3.6" height="3.6" fill="#f42828"/>
<rect x="429.85" y="541.08" width="3.6" height="3.6" fill="#f42828"/>
<rect x="436.46" y="544.65" width="3.6" height="3.6" fill="#f42828"/>
<rect x="429.51" y="547.33" width="3.6" height="3.6" fill="#f42828"/>
<rect x="436.25" y="549.83" width="3.6" height="3.6" fill="#f42828"/>
<rect x="432.75" y="554.3" width="3.6" height="3.6" fill="#f42828"/>
<rect x="433" y="558.59" width="3.6" height="3.6" fill="#f42828"/>
<rect x="436.18" y="563.95" width="3.6" height="3.6" fill="#f42828"/>
<rect x="429.8" y="567.35" width="3.6" height="3.6" fill="#f42828"/>
<rect x="439.57" y="572.71" width="3.6" height="3.6" fill="#f42828"/>
<rect x="426.32" y="572.71" width="3.6" height="3.6" fill="#f42828"/>
<rect x="433.08" y="575.75" width="3.6" height="3.6" fill="#f42828"/>
<rect x="426.33" y="578.79" width="3.6" height="3.6" fill="#f42828"/>
<rect x="433.06" y="578.79" width="3.6" height="3.6" fill="#f42828"/>
<rect x="439.79" y="582.36" width="3.6" height="3.6" fill="#f42828"/>
<rect x="433.27" y="585.76" width="3.6" height="3.6" fill="#f42828"/>
<path d="M470.18 510.71L467.98 514.71L472.38 514.71Z" fill="#4ad62c"/>
<path d="M463.61 510.71L461.41 514.71L465.81 514.71Z" fill="#4ad62c"/>
<path d="M456.88 513.04L454.68 517.04L459.08 517.04Z" fill="#4ad62c"/>
<path d="M460.17 517.15L457.97 521.15L462.37 521.15Z" fill="#4ad62c"/>
<path d="M466.92 519.47L464.72 523.47L469.12 523.47Z" fill="#4ad62c"/>
<path d="M463.52 524.83L461.32 528.83L465.72 528.83Z" fill="#4ad62c"/>
<path d="M470.68 530.01L468.48 534.01L472.88 534.01Z" fill="#4ad62c"/>
<path d="M461.13 532.69L458.93 536.69L463.33 536.69Z" fill="#4ad62c"/>
<path d="M465.99 532.69L463.79 536.69L468.19 536.69Z" fill="#4ad62c"/>
<path d="M456.11 532.69L453.91 536.69L458.31 536.69Z" fill="#4ad62c"/>
<path d="M466.91 534.12L464.71 538.12L469.11 538.12Z" fill="#4ad62c"/>
<path d="M460.12 536.98L457.92 540.98L462.32 540.98Z" fill="#4ad62c"/>
<path d="M466.66 539.13L464.46 543.13L468.86 543.13Z" fill="#4ad62c"/>
<path d="M460.38 542.34L458.18 546.34L462.58 546.34Z" fill="#4ad62c"/>
<path d="M463.74 553.78L461.54 557.78L465.94 557.78Z" fill="#4ad62c"/>
<path d="M460.25 558.07L458.05 562.07L462.45 562.07Z" fill="#4ad62c"/>
<path d="M466.99 560.04L464.79 564.04L469.19 564.04Z" fill="#4ad62c"/>
<path d="M463.33 564.33L461.13 568.33L465.53 568.33Z" fill="#4ad62c"/>
<path d="M498.9 525L496.7 521L501.1 521Z" fill="#b432f4"/>
<path d="M492.42 525L490.22 521L494.62 521Z" fill="#b432f4"/>
<path d="M485.61 528.04L483.41 524.04L487.81 524.04Z" fill="#b432f4"/>
<path d="M499.66 533.04L497.46 529.04L501.86 529.04Z" fill="#b432f4"/>
<path d="M492.31 533.04L490.11 529.04L494.51 529.04Z" fill="#b432f4"/>
<path d="M485.14 535.55L482.94 531.55L487.34 531.55Z" fill="#b432f4"/>
<path d="M488.75 535.55L486.55 531.55L490.95 531.55Z" fill="#b432f4"/>
<path d="M496.02 535.55L493.82 531.55L498.22 531.55Z" fill="#b432f4"/>
<path d="M488.62 538.23L486.42 534.23L490.82 534.23Z" fill="#b432f4"/>
<path d="M492.45 538.23L490.25 534.23L494.65 534.23Z" fill="#b432f4"/>
<path d="M485.11 538.23L482.91 534.23L487.31 534.23Z" fill="#b432f4"/>
<path d="M499.61 540.55L497.41 536.55L501.81 536.55Z" fill="#b432f4"/>
<path d="M495.94 540.55L493.74 536.55L498.14 536.55Z" fill="#b432f4"/>
<path d="M492.4 552.35L490.2 548.35L494.6 548.35Z" fill="#b432f4"/>
<path d="M492.38 556.64L490.18 552.64L494.58 552.64Z" fill="#b432f4"/>
<path d="M492.27 562.71L490.07 558.71L494.47 558.71Z" fill="#b432f4"/>
<path d="M485.87 576.83L483.67 572.83L488.07 572.83Z" fill="#b432f4"/>
<path d="M492.28 576.83L490.08 572.83L494.48 572.83Z" fill="#b432f4"/>
<path d="M498.81 580.4L496.61 576.4L501.01 576.4Z" fill="#b432f4"/>
<line x1="406.2" y1="521.97" x2="406.2" y2="545.2" stroke="#1c1cff" stroke-width="1"/>
<line x1="401.4" y1="521.97" x2="411" y2="521.97" stroke="#1c1cff" stroke-width="1"/>
<line x1="401.4" y1="545.2" x2="411" y2="545.2" stroke="#1c1cff" stroke-width="1"/>
<line x1="434.8" y1="540.73" x2="434.8" y2="580.05" stroke="#f42828" stroke-width="1"/>
<line x1="430" y1="540.73" x2="439.6" y2="540.73" stroke="#f42828" stroke-width="1"/>
<line x1="430" y1="580.05" x2="439.6" y2="580.05" stroke="#f42828" stroke-width="1"/>
<line x1="463.5" y1="520.72" x2="463.5" y2="549.31" stroke="#4ad62c" stroke-width="1"/>
<line x1="458.7" y1="520.72" x2="468.3" y2="520.72" stroke="#4ad62c" stroke-width="1"/>
<line x1="458.7" y1="549.31" x2="468.3" y2="549.31" stroke="#4ad62c" stroke-width="1"/>
<line x1="492.4" y1="529.47" x2="492.4" y2="561.64" stroke="#b432f4" stroke-width="1"/>
<line x1="487.6" y1="529.47" x2="497.2" y2="529.47" stroke="#b432f4" stroke-width="1"/>
<line x1="487.6" y1="561.64" x2="497.2" y2="561.64" stroke="#b432f4" stroke-width="1"/>
<line x1="387.2" y1="472.15" x2="387.2" y2="598.95" stroke="#1a1a1a" stroke-width="1.7"/>
<line x1="386.35" y1="598.1" x2="501.7" y2="598.1" stroke="#1a1a1a" stroke-width="1.7"/>
<line x1="382.2" y1="580.23" x2="387.2" y2="580.23" stroke="#1a1a1a" stroke-width="1.7"/>
<text x="380.1" y="583.61" font-size="9.4" font-weight="bold" text-anchor="end" fill="#000">40</text>
<line x1="382.2" y1="544.49" x2="387.2" y2="544.49" stroke="#1a1a1a" stroke-width="1.7"/>
<text x="380.1" y="547.87" font-size="9.4" font-weight="bold" text-anchor="end" fill="#000">60</text>
<line x1="382.2" y1="508.74" x2="387.2" y2="508.74" stroke="#1a1a1a" stroke-width="1.7"/>
<text x="380.1" y="512.13" font-size="9.4" font-weight="bold" text-anchor="end" fill="#000">80</text>
<line x1="382.2" y1="473" x2="387.2" y2="473" stroke="#1a1a1a" stroke-width="1.7"/>
<text x="380.1" y="476.38" font-size="9.4" font-weight="bold" text-anchor="end" fill="#000">100</text>
<line x1="406.2" y1="598.1" x2="406.2" y2="603.1" stroke="#1a1a1a" stroke-width="1.7"/>
<line x1="434.8" y1="598.1" x2="434.8" y2="603.1" stroke="#1a1a1a" stroke-width="1.7"/>
<line x1="463.5" y1="598.1" x2="463.5" y2="603.1" stroke="#1a1a1a" stroke-width="1.7"/>
<line x1="492.4" y1="598.1" x2="492.4" y2="603.1" stroke="#1a1a1a" stroke-width="1.7"/>
<text transform="translate(358 535.6) rotate(-90)" font-size="12" font-weight="bold" text-anchor="middle" fill="#000">Recognition index</text>
<line x1="406.6" y1="492.2" x2="439.1" y2="492.2" stroke="#1a1a1a" stroke-width="1.35"/>
<text x="423.5" y="492.2" font-size="16.5" font-weight="bold" text-anchor="middle" letter-spacing="1.3">***</text>
<line x1="435.3" y1="474.3" x2="497.1" y2="474.3" stroke="#1a1a1a" stroke-width="1.35"/>
<text x="466.85" y="474.3" font-size="16.5" font-weight="bold" text-anchor="middle" letter-spacing="1.3">**</text>
<text transform="translate(409 612.1) rotate(-45)" text-anchor="end" font-size="9.1"><tspan font-weight="bold" stroke="#000" stroke-width="0.22" font-size="9.6">p16</tspan><tspan font-size="7.5" letter-spacing="-0.4" stroke="#000" stroke-width="0.12" dy="-5">INK4a flox/flox</tspan><tspan font-weight="bold" stroke="#000" stroke-width="0.22" letter-spacing="0" dy="5" dx="1.2">-saline</tspan></text>
<text transform="translate(437.6 612.1) rotate(-45)" text-anchor="end" font-size="9.1"><tspan font-weight="bold" stroke="#000" stroke-width="0.22" font-size="9.6">p16</tspan><tspan font-size="7.5" letter-spacing="-0.4" stroke="#000" stroke-width="0.12" dy="-5">INK4a flox/flox</tspan><tspan font-weight="bold" stroke="#000" stroke-width="0.22" letter-spacing="0" dy="5" dx="1.2">-propofol</tspan></text>
<text transform="translate(466.3 612.1) rotate(-45)" text-anchor="end" font-size="9.1"><tspan font-weight="bold" stroke="#000" stroke-width="0.22" font-size="9.6">p16</tspan><tspan font-size="7.5" letter-spacing="-0.4" stroke="#000" stroke-width="0.12" dy="-5">INK4a</tspan><tspan font-weight="bold" stroke="#000" stroke-width="0.22" letter-spacing="0" dy="5" dx="1.6">-CKO-saline</tspan></text>
<text transform="translate(495.2 612.1) rotate(-45)" text-anchor="end" font-size="9.1"><tspan font-weight="bold" stroke="#000" stroke-width="0.22" font-size="9.6">p16</tspan><tspan font-size="7.5" letter-spacing="-0.4" stroke="#000" stroke-width="0.12" dy="-5">INK4a</tspan><tspan font-weight="bold" stroke="#000" stroke-width="0.22" letter-spacing="0" dy="5" dx="1.6">-CKO-propofol</tspan></text>
<text x="347.4" y="459.4" font-size="17" stroke="#000" stroke-width="0.6">J</text>
<rect x="567.95" y="529.92" width="17.1" height="68.18" fill="#fff"/>
<rect x="596.75" y="529.29" width="17.1" height="68.81" fill="#fff"/>
<rect x="625.65" y="529.04" width="17.1" height="69.06" fill="#fff"/>
<rect x="654.35" y="528.17" width="17.1" height="69.93" fill="#fff"/>
<path d="M567.95 598.1V529.92H585.05V598.1" fill="none" stroke="#1c1cff" stroke-width="1.9" stroke-linejoin="miter"/>
<path d="M596.75 598.1V529.29H613.85V598.1" fill="none" stroke="#f42828" stroke-width="1.9" stroke-linejoin="miter"/>
<path d="M625.65 598.1V529.04H642.75V598.1" fill="none" stroke="#4ad62c" stroke-width="1.9" stroke-linejoin="miter"/>
<path d="M654.35 598.1V528.17H671.45V598.1" fill="none" stroke="#b432f4" stroke-width="1.9" stroke-linejoin="miter"/>
<circle cx="569.88" cy="510.53" r="2" fill="#1c1cff"/>
<circle cx="583.11" cy="510.53" r="2" fill="#1c1cff"/>
<circle cx="576.59" cy="511.78" r="2" fill="#1c1cff"/>
<circle cx="570.06" cy="515.53" r="2" fill="#1c1cff"/>
<circle cx="576.57" cy="518.04" r="2" fill="#1c1cff"/>
<circle cx="583.24" cy="519.29" r="2" fill="#1c1cff"/>
<circle cx="573.04" cy="520.54" r="2" fill="#1c1cff"/>
<circle cx="579.88" cy="523.04" r="2" fill="#1c1cff"/>
<circle cx="583.17" cy="525.54" r="2" fill="#1c1cff"/>
<circle cx="576.59" cy="529.29" r="2" fill="#1c1cff"/>
<circle cx="569.81" cy="529.29" r="2" fill="#1c1cff"/>
<circle cx="573.11" cy="530.55" r="2" fill="#1c1cff"/>
<circle cx="579.61" cy="531.8" r="2" fill="#1c1cff"/>
<circle cx="573.37" cy="535.55" r="2" fill="#1c1cff"/>
<circle cx="579.68" cy="538.05" r="2" fill="#1c1cff"/>
<circle cx="579.72" cy="541.81" r="2" fill="#1c1cff"/>
<circle cx="573.35" cy="545.56" r="2" fill="#1c1cff"/>
<circle cx="576.78" cy="548.06" r="2" fill="#1c1cff"/>
<circle cx="576.3" cy="553.06" r="2" fill="#1c1cff"/>
<circle cx="576.48" cy="564.32" r="2" fill="#1c1cff"/>
<rect x="605.91" y="504.98" width="3.6" height="3.6" fill="#f42828"/>
<rect x="601.15" y="504.98" width="3.6" height="3.6" fill="#f42828"/>
<rect x="596.46" y="506.23" width="3.6" height="3.6" fill="#f42828"/>
<rect x="610.78" y="507.48" width="3.6" height="3.6" fill="#f42828"/>
<rect x="596.75" y="509.98" width="3.6" height="3.6" fill="#f42828"/>
<rect x="609.95" y="511.23" width="3.6" height="3.6" fill="#f42828"/>
<rect x="603.7" y="511.23" width="3.6" height="3.6" fill="#f42828"/>
<rect x="610.07" y="514.99" width="3.6" height="3.6" fill="#f42828"/>
<rect x="596.88" y="516.24" width="3.6" height="3.6" fill="#f42828"/>
<rect x="603.43" y="518.74" width="3.6" height="3.6" fill="#f42828"/>
<rect x="603.38" y="523.74" width="3.6" height="3.6" fill="#f42828"/>
<rect x="603.27" y="528.75" width="3.6" height="3.6" fill="#f42828"/>
<rect x="603.69" y="533.75" width="3.6" height="3.6" fill="#f42828"/>
<rect x="603.4" y="538.75" width="3.6" height="3.6" fill="#f42828"/>
<rect x="603.29" y="546.26" width="3.6" height="3.6" fill="#f42828"/>
<rect x="603.77" y="552.52" width="3.6" height="3.6" fill="#f42828"/>
<rect x="605.79" y="563.77" width="3.6" height="3.6" fill="#f42828"/>
<rect x="596.17" y="565.03" width="3.6" height="3.6" fill="#f42828"/>
<rect x="600.91" y="566.28" width="3.6" height="3.6" fill="#f42828"/>
<rect x="610.88" y="566.28" width="3.6" height="3.6" fill="#f42828"/>
<path d="M634.25 496.95L632.05 500.95L636.45 500.95Z" fill="#4ad62c"/>
<path d="M637.52 504.46L635.32 508.46L639.72 508.46Z" fill="#4ad62c"/>
<path d="M631.06 508.21L628.86 512.21L633.26 512.21Z" fill="#4ad62c"/>
<path d="M630.89 510.71L628.69 514.71L633.09 514.71Z" fill="#4ad62c"/>
<path d="M637.57 513.21L635.37 517.21L639.77 517.21Z" fill="#4ad62c"/>
<path d="M640.91 515.72L638.71 519.72L643.11 519.72Z" fill="#4ad62c"/>
<path d="M627.77 518.22L625.57 522.22L629.97 522.22Z" fill="#4ad62c"/>
<path d="M634.19 519.47L631.99 523.47L636.39 523.47Z" fill="#4ad62c"/>
<path d="M631.09 520.72L628.89 524.72L633.29 524.72Z" fill="#4ad62c"/>
<path d="M637.33 523.22L635.13 527.22L639.53 527.22Z" fill="#4ad62c"/>
<path d="M637.48 525.72L635.28 529.72L639.68 529.72Z" fill="#4ad62c"/>
<path d="M630.76 528.23L628.56 532.23L632.96 532.23Z" fill="#4ad62c"/>
<path d="M630.78 531.98L628.58 535.98L632.98 535.98Z" fill="#4ad62c"/>
<path d="M637.61 535.73L635.41 539.73L639.81 539.73Z" fill="#4ad62c"/>
<path d="M637.46 539.49L635.26 543.49L639.66 543.49Z" fill="#4ad62c"/>
<path d="M630.95 543.24L628.75 547.24L633.15 547.24Z" fill="#4ad62c"/>
<path d="M634.02 548.24L631.82 552.24L636.22 552.24Z" fill="#4ad62c"/>
<path d="M634.16 555.75L631.96 559.75L636.36 559.75Z" fill="#4ad62c"/>
<path d="M634.08 560.75L631.88 564.75L636.28 564.75Z" fill="#4ad62c"/>
<path d="M633.97 565.76L631.77 569.76L636.17 569.76Z" fill="#4ad62c"/>
<path d="M666.13 501.59L663.93 497.59L668.33 497.59Z" fill="#b432f4"/>
<path d="M659.63 505.34L657.43 501.34L661.83 501.34Z" fill="#b432f4"/>
<path d="M660.69 511.6L658.49 507.6L662.89 507.6Z" fill="#b432f4"/>
<path d="M670.02 512.85L667.82 508.85L672.22 508.85Z" fill="#b432f4"/>
<path d="M665.37 514.1L663.17 510.1L667.57 510.1Z" fill="#b432f4"/>
<path d="M655.56 515.35L653.36 511.35L657.76 511.35Z" fill="#b432f4"/>
<path d="M669.69 517.85L667.49 513.85L671.89 513.85Z" fill="#b432f4"/>
<path d="M662.74 519.11L660.54 515.11L664.94 515.11Z" fill="#b432f4"/>
<path d="M656.24 521.61L654.04 517.61L658.44 517.61Z" fill="#b432f4"/>
<path d="M659.56 525.36L657.36 521.36L661.76 521.36Z" fill="#b432f4"/>
<path d="M666.24 527.86L664.04 523.86L668.44 523.86Z" fill="#b432f4"/>
<path d="M659.75 531.62L657.55 527.62L661.95 527.62Z" fill="#b432f4"/>
<path d="M666.21 535.37L664.01 531.37L668.41 531.37Z" fill="#b432f4"/>
<path d="M659.65 539.12L657.45 535.12L661.85 535.12Z" fill="#b432f4"/>
<path d="M666.09 542.87L663.89 538.87L668.29 538.87Z" fill="#b432f4"/>
<path d="M666.13 546.63L663.93 542.63L668.33 542.63Z" fill="#b432f4"/>
<path d="M659.75 550.38L657.55 546.38L661.95 546.38Z" fill="#b432f4"/>
<path d="M662.78 555.38L660.58 551.38L664.98 551.38Z" fill="#b432f4"/>
<path d="M663.18 560.39L660.98 556.39L665.38 556.39Z" fill="#b432f4"/>
<path d="M663.16 567.89L660.96 563.89L665.36 563.89Z" fill="#b432f4"/>
<line x1="576.5" y1="516.16" x2="576.5" y2="543.68" stroke="#1c1cff" stroke-width="1"/>
<line x1="571.75" y1="516.16" x2="581.25" y2="516.16" stroke="#1c1cff" stroke-width="1"/>
<line x1="571.75" y1="543.68" x2="581.25" y2="543.68" stroke="#1c1cff" stroke-width="1"/>
<line x1="605.3" y1="509.28" x2="605.3" y2="549.31" stroke="#f42828" stroke-width="1"/>
<line x1="600.55" y1="509.28" x2="610.05" y2="509.28" stroke="#f42828" stroke-width="1"/>
<line x1="600.55" y1="549.31" x2="610.05" y2="549.31" stroke="#f42828" stroke-width="1"/>
<line x1="634.2" y1="511.53" x2="634.2" y2="546.56" stroke="#4ad62c" stroke-width="1"/>
<line x1="629.45" y1="511.53" x2="638.95" y2="511.53" stroke="#4ad62c" stroke-width="1"/>
<line x1="629.45" y1="546.56" x2="638.95" y2="546.56" stroke="#4ad62c" stroke-width="1"/>
<line x1="662.9" y1="510.66" x2="662.9" y2="545.68" stroke="#b432f4" stroke-width="1"/>
<line x1="658.15" y1="510.66" x2="667.65" y2="510.66" stroke="#b432f4" stroke-width="1"/>
<line x1="658.15" y1="545.68" x2="667.65" y2="545.68" stroke="#b432f4" stroke-width="1"/>
<line x1="557.6" y1="472.15" x2="557.6" y2="598.95" stroke="#1a1a1a" stroke-width="1.7"/>
<line x1="556.75" y1="598.1" x2="682.7" y2="598.1" stroke="#1a1a1a" stroke-width="1.7"/>
<line x1="552.6" y1="598.1" x2="557.6" y2="598.1" stroke="#1a1a1a" stroke-width="1.7"/>
<text x="550.5" y="601.48" font-size="9.4" font-weight="bold" text-anchor="end" fill="#000">0</text>
<line x1="552.6" y1="573.08" x2="557.6" y2="573.08" stroke="#1a1a1a" stroke-width="1.7"/>
<text x="550.5" y="576.46" font-size="9.4" font-weight="bold" text-anchor="end" fill="#000">2</text>
<line x1="552.6" y1="548.06" x2="557.6" y2="548.06" stroke="#1a1a1a" stroke-width="1.7"/>
<text x="550.5" y="551.44" font-size="9.4" font-weight="bold" text-anchor="end" fill="#000">4</text>
<line x1="552.6" y1="523.04" x2="557.6" y2="523.04" stroke="#1a1a1a" stroke-width="1.7"/>
<text x="550.5" y="526.42" font-size="9.4" font-weight="bold" text-anchor="end" fill="#000">6</text>
<line x1="552.6" y1="498.02" x2="557.6" y2="498.02" stroke="#1a1a1a" stroke-width="1.7"/>
<text x="550.5" y="501.4" font-size="9.4" font-weight="bold" text-anchor="end" fill="#000">8</text>
<line x1="552.6" y1="473" x2="557.6" y2="473" stroke="#1a1a1a" stroke-width="1.7"/>
<text x="550.5" y="476.38" font-size="9.4" font-weight="bold" text-anchor="end" fill="#000">10</text>
<line x1="576.5" y1="598.1" x2="576.5" y2="603.1" stroke="#1a1a1a" stroke-width="1.7"/>
<line x1="605.3" y1="598.1" x2="605.3" y2="603.1" stroke="#1a1a1a" stroke-width="1.7"/>
<line x1="634.2" y1="598.1" x2="634.2" y2="603.1" stroke="#1a1a1a" stroke-width="1.7"/>
<line x1="662.9" y1="598.1" x2="662.9" y2="603.1" stroke="#1a1a1a" stroke-width="1.7"/>
<text transform="translate(534 535.5) rotate(-90)" font-size="12" font-weight="bold" text-anchor="middle" fill="#000">Velocity (cm/s)</text>
<line x1="577.9" y1="492.7" x2="603.9" y2="492.7" stroke="#1a1a1a" stroke-width="1.35"/>
<text x="590.9" y="487" font-size="11" text-anchor="middle" fill="#000">ns</text>
<line x1="602.2" y1="480.4" x2="663.1" y2="480.4" stroke="#1a1a1a" stroke-width="1.35"/>
<text x="632.65" y="474.7" font-size="11" text-anchor="middle" fill="#000">ns</text>
<text transform="translate(579.3 612.1) rotate(-45)" text-anchor="end" font-size="9.1"><tspan font-weight="bold" stroke="#000" stroke-width="0.22" font-size="9.6">p16</tspan><tspan font-size="7.5" letter-spacing="-0.4" stroke="#000" stroke-width="0.12" dy="-5">INK4a flox/flox</tspan><tspan font-weight="bold" stroke="#000" stroke-width="0.22" letter-spacing="0" dy="5" dx="1.2">-saline</tspan></text>
<text transform="translate(608.1 612.1) rotate(-45)" text-anchor="end" font-size="9.1"><tspan font-weight="bold" stroke="#000" stroke-width="0.22" font-size="9.6">p16</tspan><tspan font-size="7.5" letter-spacing="-0.4" stroke="#000" stroke-width="0.12" dy="-5">INK4a flox/flox</tspan><tspan font-weight="bold" stroke="#000" stroke-width="0.22" letter-spacing="0" dy="5" dx="1.2">-propofol</tspan></text>
<text transform="translate(637 612.1) rotate(-45)" text-anchor="end" font-size="9.1"><tspan font-weight="bold" stroke="#000" stroke-width="0.22" font-size="9.6">p16</tspan><tspan font-size="7.5" letter-spacing="-0.4" stroke="#000" stroke-width="0.12" dy="-5">INK4a</tspan><tspan font-weight="bold" stroke="#000" stroke-width="0.22" letter-spacing="0" dy="5" dx="1.6">-CKO-saline</tspan></text>
<text transform="translate(665.7 612.1) rotate(-45)" text-anchor="end" font-size="9.1"><tspan font-weight="bold" stroke="#000" stroke-width="0.22" font-size="9.6">p16</tspan><tspan font-size="7.5" letter-spacing="-0.4" stroke="#000" stroke-width="0.12" dy="-5">INK4a</tspan><tspan font-weight="bold" stroke="#000" stroke-width="0.22" letter-spacing="0" dy="5" dx="1.6">-CKO-propofol</tspan></text>
<text x="509.1" y="459.4" font-size="17" stroke="#000" stroke-width="0.6">K</text>
<text x="351" y="245.4" font-size="14.6" text-anchor="middle" stroke="#000" stroke-width="0.35">Probe test</text>
<text x="187.6" y="238.7" font-size="16.5" stroke="#000" stroke-width="0.6">F</text>
<circle cx="232.2" cy="298.3" r="38" fill="none" stroke="#3a3a3a" stroke-width="0.9"/>
<line x1="194.2" y1="298.3" x2="270.2" y2="298.3" stroke="#333" stroke-width="0.7" stroke-dasharray="1.1 0.8"/>
<line x1="232.2" y1="260.3" x2="232.2" y2="336.3" stroke="#333" stroke-width="0.7" stroke-dasharray="1.1 0.8"/>
<circle cx="311.2" cy="298.3" r="38" fill="none" stroke="#3a3a3a" stroke-width="0.9"/>
<line x1="273.2" y1="298.3" x2="349.2" y2="298.3" stroke="#333" stroke-width="0.7" stroke-dasharray="1.1 0.8"/>
<line x1="311.2" y1="260.3" x2="311.2" y2="336.3" stroke="#333" stroke-width="0.7" stroke-dasharray="1.1 0.8"/>
<circle cx="389.7" cy="299" r="38" fill="none" stroke="#3a3a3a" stroke-width="0.9"/>
<line x1="351.7" y1="299" x2="427.7" y2="299" stroke="#333" stroke-width="0.7" stroke-dasharray="1.1 0.8"/>
<line x1="389.7" y1="261" x2="389.7" y2="337" stroke="#333" stroke-width="0.7" stroke-dasharray="1.1 0.8"/>
<circle cx="468.7" cy="299" r="38" fill="none" stroke="#3a3a3a" stroke-width="0.9"/>
<line x1="430.7" y1="299" x2="506.7" y2="299" stroke="#333" stroke-width="0.7" stroke-dasharray="1.1 0.8"/>
<line x1="468.7" y1="261" x2="468.7" y2="337" stroke="#333" stroke-width="0.7" stroke-dasharray="1.1 0.8"/>
<path d="M257.4 272.25C254.68 272.79 245.33 274.58 241.05 275.52C236.77 276.45 234.43 276.98 231.71 277.85C228.98 278.73 226.49 279.51 224.7 280.77C222.91 282.04 221.78 283.89 220.96 285.45C220.15 287 219.76 288.85 219.8 290.12C219.83 291.38 220.18 291.77 221.2 293.04C222.21 294.3 224.8 295.96 225.87 297.71C226.94 299.46 227.62 301.89 227.62 303.55C227.62 305.2 226.94 306.86 225.87 307.64C224.8 308.41 222.33 308.71 221.2 308.22C220.07 307.73 219.43 306.66 219.09 304.72C218.76 302.77 218.96 299.17 219.21 296.54C219.46 293.91 219.31 290.66 220.61 288.95C221.92 287.24 224.6 286.55 227.04 286.26C229.47 285.97 233.07 286.55 235.21 287.2C237.35 287.84 238.81 288.75 239.88 290.12C240.95 291.48 241.34 292.74 241.64 295.37C241.93 298 242.22 303.26 241.64 305.88C241.05 308.51 239.59 310.17 238.13 311.14C236.67 312.11 234.14 312.01 232.88 311.72C231.61 311.43 230.35 310.36 230.54 309.39C230.73 308.41 233.65 307.64 234.04 305.88C234.43 304.13 233.65 301.02 232.88 298.88C232.1 296.73 230.93 294.5 229.37 293.04C227.82 291.58 225.28 290.9 223.53 290.12C221.78 289.34 220.42 288.99 218.86 288.36C217.3 287.74 215.75 286.38 214.19 286.38C212.63 286.38 210.73 287.06 209.52 288.36C208.31 289.67 207.44 291.67 206.95 294.2C206.46 296.73 206.46 300.63 206.6 303.55C206.73 306.47 206.89 309.19 207.77 311.72C208.64 314.25 210 317.08 211.85 318.73C213.7 320.38 216.91 321.65 218.86 321.65C220.81 321.65 222.17 320.19 223.53 318.73C224.9 317.27 227.23 314.45 227.04 312.89C226.84 311.33 224.7 310.17 222.36 309.39C220.03 308.61 215.94 308.8 213.02 308.22C210.1 307.64 206.95 306.27 204.85 305.88C202.74 305.49 200.41 304.91 200.41 305.88C200.41 306.86 203.33 309.97 204.85 311.72C206.36 313.47 207.77 315.62 209.52 316.39C211.27 317.17 213.61 316.98 215.36 316.39C217.11 315.81 218.08 313.86 220.03 312.89C221.98 311.92 224.31 310.85 227.04 310.55C229.76 310.26 234.53 310.55 236.38 311.14C238.23 311.72 238.33 312.99 238.13 314.06C237.94 315.13 236.67 316.94 235.21 317.56C233.75 318.18 231.51 318.18 229.37 317.8C227.23 317.41 224.7 316.04 222.36 315.23C220.03 314.41 216.91 313.86 215.36 312.89C213.8 311.92 213.61 310.75 213.02 309.39C212.44 308.02 211.85 306.47 211.85 304.72C211.85 302.96 212.34 298.88 213.02 298.88C213.7 298.88 215.36 302.96 215.94 304.72C216.53 306.47 216.91 308.02 216.53 309.39C216.14 310.75 214.58 312.11 213.61 312.89C212.63 313.67 211.37 313.28 210.69 314.06C210 314.84 208.74 316.39 209.52 317.56C210.3 318.73 213.41 320.87 215.36 321.07C217.3 321.26 220.61 319.9 221.2 318.73C221.78 317.56 220.42 315.03 218.86 314.06C217.3 313.09 213.61 313.67 211.85 312.89C210.1 312.11 208.55 310.36 208.35 309.39C208.16 308.41 208.93 307.25 210.69 307.05C212.44 306.86 216.72 307.44 218.86 308.22C221 309 223.14 310.36 223.53 311.72C223.92 313.09 222.75 315.62 221.2 316.39C219.64 317.17 216.14 316.98 214.19 316.39C212.24 315.81 210.69 312.89 209.52 312.89C208.35 312.89 206.99 315.03 207.18 316.39C207.38 317.76 209.13 319.9 210.69 321.07C212.24 322.23 214.58 323.11 216.53 323.4C218.47 323.69 221 323.6 222.36 322.82C223.73 322.04 225.09 319.7 224.7 318.73C224.31 317.76 221.98 316.78 220.03 316.98C218.08 317.17 214 319.02 213.02 319.9C212.05 320.77 213.41 321.45 214.19 322.23C214.97 323.01 216.33 323.79 217.69 324.57C219.06 325.35 220.91 325.83 222.36 326.91C223.82 327.98 225.77 330.31 226.45 330.99" fill="none" stroke="#1c1cff" stroke-width="0.95" stroke-linejoin="round"/>
<path d="M335.82 272.6C334.36 272.4 330.46 271.57 327.06 271.43C323.65 271.29 318.88 271.49 315.38 271.78C311.88 272.07 308.27 272.46 306.04 273.18C303.8 273.9 302.53 274.93 301.95 276.1C301.36 277.27 301.85 279.12 302.53 280.19C303.21 281.26 304.67 282.33 306.04 282.53C307.4 282.72 309.83 282.14 310.71 281.36C311.58 280.58 312.07 278.63 311.29 277.85C310.51 277.08 308.86 276.98 306.04 276.69C303.21 276.39 297.47 275.81 294.36 276.1C291.24 276.39 288.81 277.27 287.35 278.44C285.89 279.61 285.21 282.04 285.6 283.11C285.99 284.18 287.25 284.86 289.69 284.86C292.12 284.86 296.5 283.21 300.2 283.11C303.9 283.01 308.18 283.6 311.88 284.28C315.57 284.96 318.79 286.32 322.39 287.2C325.99 288.07 332.9 289.53 333.48 289.53C334.07 289.53 328.13 287.98 325.89 287.2C323.65 286.42 319.27 285.06 320.05 284.86C320.83 284.67 328.62 286.42 330.56 286.03C332.51 285.64 332.51 283.69 331.73 282.53C330.95 281.36 328.62 279.8 325.89 279.02C323.17 278.24 318.69 277.85 315.38 277.85C312.07 277.85 308.76 277.85 306.04 279.02C303.31 280.19 300.59 282.53 299.03 284.86C297.47 287.2 297.47 290.51 296.69 293.04C295.91 295.57 294.94 297.71 294.36 300.04C293.77 302.38 293.29 305.1 293.19 307.05C293.09 309 292.8 311.33 293.77 311.72C294.75 312.11 296.99 310.17 299.03 309.39C301.07 308.61 303.7 307.83 306.04 307.05C308.37 306.27 311.29 306.08 313.04 304.72C314.8 303.35 316.16 301.21 316.55 298.88C316.94 296.54 316.35 292.84 315.38 290.7C314.41 288.56 312.46 286.71 310.71 286.03C308.96 285.35 306.62 285.64 304.87 286.61C303.12 287.59 300.68 289.82 300.2 291.87C299.71 293.91 300.78 296.93 301.95 298.88C303.12 300.82 305.55 301.99 307.2 303.55C308.86 305.1 310.71 306.47 311.88 308.22C313.04 309.97 313.53 311.92 314.21 314.06C314.89 316.2 315.57 318.73 315.96 321.07C316.35 323.4 317.81 327.2 316.55 328.07C315.28 328.95 310.9 327.1 308.37 326.32C305.84 325.54 303.21 324.86 301.36 323.4C299.52 321.94 297.67 319.51 297.28 317.56C296.89 315.62 297.57 312.89 299.03 311.72C300.49 310.55 303.7 310.36 306.04 310.55C308.37 310.75 311.1 311.92 313.04 312.89C314.99 313.86 315.57 315.62 317.72 316.39C319.86 317.17 324.14 318.15 325.89 317.56C327.64 316.98 327.84 315.03 328.23 312.89C328.62 310.75 328.62 307.44 328.23 304.72C327.84 301.99 327.25 298.49 325.89 296.54C324.53 294.59 321.41 292.84 320.05 293.04C318.69 293.23 317.33 296.15 317.72 297.71C318.1 299.27 320.44 300.63 322.39 302.38C324.33 304.13 328.42 306.27 329.39 308.22C330.37 310.17 329.59 312.89 328.23 314.06C326.86 315.23 323.36 315.42 321.22 315.23C319.08 315.03 316.45 314.06 315.38 312.89C314.31 311.72 314.21 309.19 314.8 308.22C315.38 307.25 317.62 306.27 318.88 307.05C320.15 307.83 322.19 310.36 322.39 312.89C322.58 315.42 321.61 320.09 320.05 322.23C318.49 324.37 315.57 325.93 313.04 325.74C310.51 325.54 307.4 324.18 304.87 321.07C302.34 317.95 299.52 310.94 297.86 307.05C296.21 303.16 294.94 300.04 294.94 297.71C294.94 295.37 295.43 293.23 297.86 293.04C300.29 292.84 305.06 296.54 309.54 296.54C314.02 296.54 321.41 293.62 324.72 293.04C328.03 292.45 332.51 289.14 329.39 293.04C326.28 296.93 310.9 313.86 306.04 316.39C301.17 318.92 301.95 310.55 300.2 308.22C298.45 305.88 295.91 304.52 295.53 302.38C295.14 300.24 296.11 296.93 297.86 295.37C299.61 293.82 303.12 292.84 306.04 293.04C308.96 293.23 312.46 296.54 315.38 296.54C318.3 296.54 321.22 293.04 323.55 293.04C325.89 293.04 328.52 294.2 329.39 296.54C330.27 298.88 329.78 304.52 328.81 307.05C327.84 309.58 325.79 311.33 323.55 311.72C321.32 312.11 317.72 310.94 315.38 309.39C313.04 307.83 311.88 303.55 309.54 302.38C307.2 301.21 303.6 301.02 301.36 302.38C299.13 303.74 296.5 307.83 296.11 310.55C295.72 313.28 297.37 316.59 299.03 318.73C300.68 320.87 303.31 322.62 306.04 323.4C308.76 324.18 312.65 324.18 315.38 323.4C318.1 322.62 320.44 320.48 322.39 318.73C324.33 316.98 327.25 315.23 327.06 312.89C326.86 310.55 323.75 307.25 321.22 304.72C318.69 302.18 314.8 300.63 311.88 297.71C308.96 294.79 303.7 289.92 303.7 287.2C303.7 284.47 308.76 282.14 311.88 281.36C314.99 280.58 319.47 281.36 322.39 282.53C325.31 283.69 328.23 287.39 329.39 288.36" fill="none" stroke="#f42828" stroke-width="0.95" stroke-linejoin="round"/>
<path d="M412.48 271.43C411.22 271.04 407.52 269.68 404.89 269.09C402.26 268.51 399.25 268.02 396.72 267.93C394.18 267.83 391.85 267.93 389.71 268.51C387.57 269.09 385.62 270.36 383.87 271.43C382.12 272.5 380.95 273.86 379.2 274.93C377.45 276 374.72 276.59 373.36 277.85C372 279.12 371.22 280.97 371.02 282.53C370.83 284.08 371.02 286.03 372.19 287.2C373.36 288.36 376.28 289.53 378.03 289.53C379.78 289.53 381.92 288.17 382.7 287.2C383.48 286.22 383.28 285.06 382.7 283.69C382.12 282.33 379.39 280.38 379.2 279.02C379 277.66 380.17 275.91 381.53 275.52C382.9 275.13 385.23 276.1 387.37 276.69C389.51 277.27 392.43 277.85 394.38 279.02C396.33 280.19 397.49 282.14 399.05 283.69C400.61 285.25 402.17 286.81 403.72 288.36C405.28 289.92 407.32 291.48 408.39 293.04C409.46 294.59 410.15 296.35 410.15 297.71C410.15 299.07 409.46 300.34 408.39 301.21C407.32 302.09 405.28 302.77 403.72 302.96C402.17 303.16 400.02 303.45 399.05 302.38C398.08 301.31 398.27 298.68 397.88 296.54C397.49 294.4 397.69 291.09 396.72 289.53C395.74 287.98 393.41 287.29 392.04 287.2C390.68 287.1 388.93 288.36 388.54 288.95C388.15 289.53 390.29 290.21 389.71 290.7C389.12 291.19 386.4 290.9 385.04 291.87C383.67 292.84 382.21 294.4 381.53 296.54C380.85 298.68 380.75 302.38 380.95 304.72C381.14 307.05 382.99 308.61 382.7 310.55C382.41 312.5 380.56 315.23 379.2 316.39C377.83 317.56 375.89 317.95 374.53 317.56C373.16 317.17 371.8 315.42 371.02 314.06C370.24 312.7 370.24 310.75 369.85 309.39C369.46 308.02 369.27 306.86 368.69 305.88C368.1 304.91 367.03 303.35 366.35 303.55C365.67 303.74 364.6 305.49 364.6 307.05C364.6 308.61 365.28 311.14 366.35 312.89C367.42 314.64 369.46 316.39 371.02 317.56C372.58 318.73 373.94 319.12 375.69 319.9C377.45 320.68 379.39 321.84 381.53 322.23C383.67 322.62 386.79 323.01 388.54 322.23C390.29 321.45 390.68 318.92 392.04 317.56C393.41 316.2 394.77 314.64 396.72 314.06C398.66 313.47 401.97 314.84 403.72 314.06C405.47 313.28 406.45 311.33 407.23 309.39C408 307.44 408.78 304.13 408.39 302.38C408 300.63 406.84 298.1 404.89 298.88C402.94 299.65 398.47 305.3 396.72 307.05C394.96 308.8 394.18 308.8 394.38 309.39C394.57 309.97 397.49 309.97 397.88 310.55C398.27 311.14 398.27 312.7 396.72 312.89C395.16 313.09 390.49 312.7 388.54 311.72C386.59 310.75 386.69 308.02 385.04 307.05C383.38 306.08 380.27 306.66 378.61 305.88C376.96 305.1 375.99 303.74 375.11 302.38C374.23 301.02 373.07 298.88 373.36 297.71C373.65 296.54 375.69 296.15 376.86 295.37C378.03 294.59 379.98 292.26 380.36 293.04C380.75 293.82 379.59 297.51 379.2 300.04C378.81 302.57 379 306.27 378.03 308.22C377.06 310.17 374.72 310.55 373.36 311.72C372 312.89 369.85 314.45 369.85 315.23C369.85 316 371.61 316.78 373.36 316.39C375.11 316 378.03 312.89 380.36 312.89C382.7 312.89 385.04 316.39 387.37 316.39C389.71 316.39 394.77 312.89 394.38 312.89C393.99 312.89 387.57 315.42 385.04 316.39C382.51 317.37 381.14 318.73 379.2 318.73C377.25 318.73 375.11 317.37 373.36 316.39C371.61 315.42 369.85 314.06 368.69 312.89C367.52 311.72 366.16 310.55 366.35 309.39C366.55 308.22 368.3 306.27 369.85 305.88C371.41 305.49 373.94 306.47 375.69 307.05C377.45 307.64 379.98 308.22 380.36 309.39C380.75 310.55 379.39 313.09 378.03 314.06C376.67 315.03 373.94 316.39 372.19 315.23C370.44 314.06 367.71 307.64 367.52 307.05C367.32 306.47 369.46 310.55 371.02 311.72C372.58 312.89 374.91 313.86 376.86 314.06C378.81 314.25 381.73 313.09 382.7 312.89" fill="none" stroke="#4ad62c" stroke-width="0.95" stroke-linejoin="round"/>
<path d="M492.07 272.6C490.9 272.31 487.78 271.33 485.06 270.85C482.33 270.36 478.64 269.91 475.72 269.68C472.8 269.45 469.68 269.25 467.54 269.45C465.4 269.64 463.94 270.03 462.87 270.85C461.8 271.66 461.51 272.99 461.12 274.35C460.73 275.71 460.53 277.27 460.53 279.02C460.53 280.77 460.53 283.11 461.12 284.86C461.7 286.61 462.97 288.36 464.04 289.53C465.11 290.7 466.37 291.67 467.54 291.87C468.71 292.06 470.27 290.51 471.04 290.7C471.82 290.9 472.8 292.26 472.21 293.04C471.63 293.82 468.9 295.37 467.54 295.37C466.18 295.37 464.23 293.82 464.04 293.04C463.84 292.26 466.96 293.04 466.37 290.7C465.79 288.36 462.09 280.77 460.53 279.02C458.98 277.27 458.39 279.41 457.03 280.19C455.67 280.97 453.62 282.53 452.36 283.69C451.09 284.86 450.22 285.83 449.44 287.2C448.66 288.56 447.88 290.51 447.69 291.87C447.49 293.23 447.59 294.79 448.27 295.37C448.95 295.96 450.7 295.76 451.77 295.37C452.84 294.98 453.62 293.62 454.69 293.04C455.76 292.45 456.64 292.26 458.2 291.87C459.75 291.48 462.67 292.74 464.04 290.7C465.4 288.66 464.43 281.07 466.37 279.61C468.32 278.15 473.18 281.07 475.72 281.94C478.25 282.82 480 283.6 481.55 284.86C483.11 286.13 484.09 287.98 485.06 289.53C486.03 291.09 486.81 292.45 487.39 294.2C487.98 295.96 488.56 297.9 488.56 300.04C488.56 302.18 488.17 304.91 487.39 307.05C486.62 309.19 484.67 310.94 483.89 312.89C483.11 314.84 483.7 317.27 482.72 318.73C481.75 320.19 480.19 320.87 478.05 321.65C475.91 322.43 472.6 322.91 469.88 323.4C467.15 323.89 464.23 324.37 461.7 324.57C459.17 324.76 456.35 325.35 454.69 324.57C453.04 323.79 452.45 321.26 451.77 319.9C451.09 318.54 450.9 317.76 450.61 316.39C450.31 315.03 450.22 313.28 450.02 311.72C449.83 310.17 449.05 308.22 449.44 307.05C449.83 305.88 451.09 305.2 452.36 304.72C453.62 304.23 455.28 304.13 457.03 304.13C458.78 304.13 461.9 304.03 462.87 304.72C463.84 305.4 463.45 307.25 462.87 308.22C462.28 309.19 460.53 310.55 459.36 310.55C458.2 310.55 456.06 309.19 455.86 308.22C455.67 307.25 456.83 305.49 458.2 304.72C459.56 303.94 460.73 302.96 464.04 303.55C467.35 304.13 474.35 307.05 478.05 308.22C481.75 309.39 484.47 310.75 486.23 310.55C487.98 310.36 488.08 309.39 488.56 307.05C489.05 304.72 489.73 298.88 489.15 296.54C488.56 294.2 486.91 293.62 485.06 293.04C483.21 292.45 480.19 293.91 478.05 293.04C475.91 292.16 475.52 288.95 472.21 287.78C468.9 286.61 461.9 286.32 458.2 286.03C454.5 285.74 451.58 285.06 450.02 286.03C448.46 287 449.24 289.14 448.85 291.87C448.46 294.59 448.27 299.85 447.69 302.38C447.1 304.91 445.93 305.1 445.35 307.05C444.77 309 443.99 312.5 444.18 314.06C444.38 315.62 445.16 316.2 446.52 316.39C447.88 316.59 451 316 452.36 315.23C453.72 314.45 454.11 313.09 454.69 311.72C455.28 310.36 456.06 308.22 455.86 307.05C455.67 305.88 454.5 304.91 453.53 304.72C452.55 304.52 450.8 304.91 450.02 305.88C449.24 306.86 448.76 309.19 448.85 310.55C448.95 311.92 450.02 313.67 450.61 314.06C451.19 314.45 450.51 312.5 452.36 312.89C454.21 313.28 457.81 315.42 461.7 316.39C465.59 317.37 472.21 318.73 475.72 318.73C479.22 318.73 481.46 317.37 482.72 316.39C483.99 315.42 484.09 314.84 483.31 312.89C482.53 310.94 478.93 307.25 478.05 304.72C477.18 302.18 478.25 299.85 478.05 297.71C477.86 295.57 477.66 291.48 476.88 291.87C476.1 292.26 475.52 298.49 473.38 300.04C471.24 301.6 467.64 301.21 464.04 301.21C460.44 301.21 454.11 299.46 451.77 300.04C449.44 300.63 450.7 302.96 450.02 304.72C449.34 306.47 447.49 308.61 447.69 310.55C447.88 312.5 449.63 315.81 451.19 316.39C452.75 316.98 455.08 315.23 457.03 314.06C458.98 312.89 461.7 310.94 462.87 309.39C464.04 307.83 464.82 305.88 464.04 304.72C463.26 303.55 460.14 302.57 458.2 302.38C456.25 302.18 453.62 302.38 452.36 303.55C451.09 304.72 450.22 307.83 450.61 309.39C451 310.94 453.04 313.09 454.69 312.89C456.35 312.7 459.56 309 460.53 308.22" fill="none" stroke="#b432f4" stroke-width="0.95" stroke-linejoin="round"/>
<circle cx="293.3" cy="315.8" r="2.6" fill="#fff" stroke="#555" stroke-width="0.7"/>
<text transform="translate(238 346.1) rotate(-45)" text-anchor="end" font-size="12.4" stroke="#000" stroke-width="0.2"><tspan font-size="13">p16</tspan><tspan font-size="7.2" dy="-6.4">INK4a flox/flox</tspan><tspan dy="6.4"> -saline</tspan></text>
<text transform="translate(317 346.1) rotate(-45)" text-anchor="end" font-size="12.4" stroke="#000" stroke-width="0.2"><tspan font-size="13">p16</tspan><tspan font-size="7.2" dy="-6.4">INK4a flox/flox</tspan><tspan dy="6.4"> -propofol</tspan></text>
<text transform="translate(395.5 346.1) rotate(-45)" text-anchor="end" font-size="12.4" stroke="#000" stroke-width="0.2"><tspan font-size="13">p16</tspan><tspan font-size="7.2" dy="-6.4">INK4a</tspan><tspan dy="6.4">-CKO-propofol</tspan></text>
<text transform="translate(474.5 346.1) rotate(-45)" text-anchor="end" font-size="12.4" stroke="#000" stroke-width="0.2"><tspan font-size="13">p16</tspan><tspan font-size="7.2" dy="-6.4">INK4a</tspan><tspan dy="6.4">-CKO-saline</tspan></text>
</svg>
</body></html>
